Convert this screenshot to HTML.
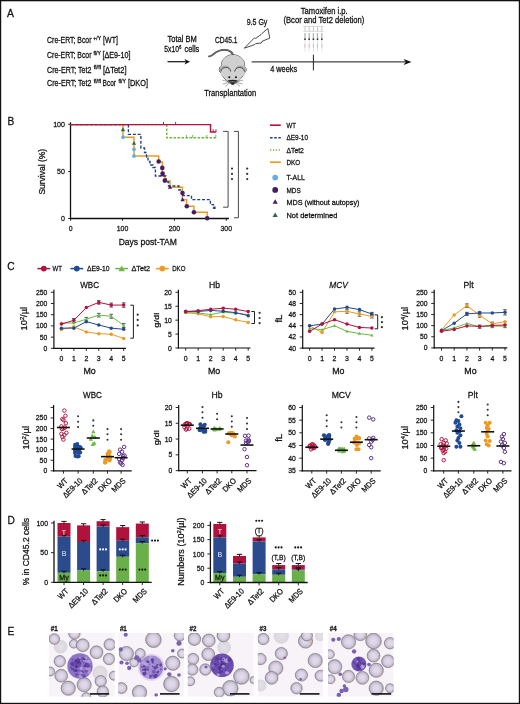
<!DOCTYPE html>
<html><head><meta charset="utf-8"><style>
html,body{margin:0;padding:0;background:#fff;}
svg{display:block;font-family:"Liberation Sans", sans-serif;will-change:transform;}
</style></head><body>
<svg width="520" height="704" viewBox="0 0 520 704" font-family='"Liberation Sans", sans-serif' fill="#111">
<rect x="0" y="0" width="520" height="704" fill="#fff"/>
<text x="7.00" y="16.80" font-size="10.8" textLength="6.92" lengthAdjust="spacingAndGlyphs" stroke="#111" stroke-width="0.26">A</text>
<text x="47.10" y="43.10" font-size="8.3" textLength="44.40" lengthAdjust="spacingAndGlyphs" stroke="#111" stroke-width="0.26">Cre-ERT; Bcor</text>
<text x="93.30" y="39.80" font-size="5.6" textLength="7.80" lengthAdjust="spacingAndGlyphs" stroke="#111" stroke-width="0.26">+/Y</text>
<text x="103.10" y="43.10" font-size="8.3" textLength="14.80" lengthAdjust="spacingAndGlyphs" stroke="#111" stroke-width="0.26">[WT]</text>
<text x="47.10" y="57.90" font-size="8.3" textLength="44.40" lengthAdjust="spacingAndGlyphs" stroke="#111" stroke-width="0.26">Cre-ERT; Bcor</text>
<text x="93.50" y="54.60" font-size="5.6" textLength="7.50" lengthAdjust="spacingAndGlyphs" stroke="#111" stroke-width="0.26">fl/Y</text>
<text x="102.50" y="57.90" font-size="8.3" textLength="27.90" lengthAdjust="spacingAndGlyphs" stroke="#111" stroke-width="0.26">[&#916;E9-10]</text>
<text x="47.10" y="72.70" font-size="8.3" textLength="44.40" lengthAdjust="spacingAndGlyphs" stroke="#111" stroke-width="0.26">Cre-ERT; Tet2</text>
<text x="93.80" y="69.40" font-size="5.6" textLength="7.20" lengthAdjust="spacingAndGlyphs" stroke="#111" stroke-width="0.26">fl/fl</text>
<text x="103.00" y="72.70" font-size="8.3" textLength="23.50" lengthAdjust="spacingAndGlyphs" stroke="#111" stroke-width="0.26">[&#916;Tet2]</text>
<text x="47.10" y="85.80" font-size="8.3" textLength="44.40" lengthAdjust="spacingAndGlyphs" stroke="#111" stroke-width="0.26">Cre-ERT; Tet2</text>
<text x="93.80" y="82.50" font-size="5.6" textLength="7.20" lengthAdjust="spacingAndGlyphs" stroke="#111" stroke-width="0.26">fl/fl</text>
<text x="102.50" y="85.80" font-size="8.3" textLength="13.50" lengthAdjust="spacingAndGlyphs" stroke="#111" stroke-width="0.26">Bcor</text>
<text x="118.50" y="82.50" font-size="5.6" textLength="7.50" lengthAdjust="spacingAndGlyphs" stroke="#111" stroke-width="0.26">fl/Y</text>
<text x="128.00" y="85.80" font-size="8.3" textLength="20.00" lengthAdjust="spacingAndGlyphs" stroke="#111" stroke-width="0.26">[DKO]</text>
<text x="167.50" y="42.10" font-size="8.2" textLength="29.20" lengthAdjust="spacingAndGlyphs" stroke="#111" stroke-width="0.26">Total BM</text>
<text x="164.30" y="51.70" font-size="8.2" textLength="14.60" lengthAdjust="spacingAndGlyphs" stroke="#111" stroke-width="0.26">5x10</text>
<text x="179.00" y="48.60" font-size="5.4" textLength="2.40" lengthAdjust="spacingAndGlyphs" stroke="#111" stroke-width="0.26">6</text>
<text x="184.50" y="51.70" font-size="8.2" textLength="14.80" lengthAdjust="spacingAndGlyphs" stroke="#111" stroke-width="0.26">cells</text>
<line x1="167.50" y1="61.70" x2="186.00" y2="61.70" stroke="#111" stroke-width="1.2"/>
<polygon points="190,61.7 184.5,58.9 186,61.7 184.5,64.5" fill="#111"/>
<text x="215.00" y="43.00" font-size="8.2" textLength="22.50" lengthAdjust="spacingAndGlyphs" stroke="#111" stroke-width="0.26">CD45.1</text>
<text x="246.70" y="24.90" font-size="8.2" textLength="20.70" lengthAdjust="spacingAndGlyphs" stroke="#111" stroke-width="0.26">9.5 Gy</text>
<polygon points="244.3,48.2 254.4,37.9 255.8,38.4 261.0,34.6 261.8,33.6 267.9,28.5 269.8,38.1 262.0,41.4 261.4,43.0 255.6,43.6 254.8,44.6" fill="#fff" stroke="#222" stroke-width="0.8" stroke-linejoin="miter"/>
<path d="M233.3,55.2 C232,51.5 229,49.8 224,49.8 C219.5,49.8 216.5,51.5 213.5,54.2 C212,55.6 210.5,56.6 209.0,56.3" fill="none" stroke="#333" stroke-width="1.7" stroke-linecap="round"/>
<path d="M233.3,55.2 C232,51.5 229,49.8 224,49.8 C219.5,49.8 216.5,51.5 213.5,54.2 C212,55.6 210.5,56.6 209.0,56.3" fill="none" stroke="#aaa" stroke-width="0.6" stroke-linecap="round"/>
<ellipse cx="233" cy="65.2" rx="11.6" ry="10.5" fill="#d0d0d0" stroke="#2a2a2a" stroke-width="1.0"/>
<ellipse cx="225.1" cy="69.6" rx="5.8" ry="4.7" fill="#d0d0d0" stroke="#2a2a2a" stroke-width="1.0"/>
<ellipse cx="240.3" cy="69.6" rx="5.8" ry="4.7" fill="#d0d0d0" stroke="#2a2a2a" stroke-width="1.0"/>
<path d="M220.6,70.5 C221.5,76.5 227.5,82.3 232.7,84.6 C237.9,82.3 243.9,76.5 244.8,70.5 Z" fill="#d0d0d0" stroke="#2a2a2a" stroke-width="1.0"/>
<ellipse cx="233" cy="65.2" rx="11.6" ry="10.5" fill="#d0d0d0"/>
<ellipse cx="225.1" cy="69.6" rx="5.8" ry="4.7" fill="#d0d0d0"/>
<ellipse cx="240.3" cy="69.6" rx="5.8" ry="4.7" fill="#d0d0d0"/>
<path d="M220.6,70.5 C221.5,76.5 227.5,82.3 232.7,84.6 C237.9,82.3 243.9,76.5 244.8,70.5 Z" fill="#d0d0d0"/>
<ellipse cx="225.1" cy="69.6" rx="5.3" ry="4.2" fill="#ababab"/>
<ellipse cx="240.3" cy="69.6" rx="5.3" ry="4.2" fill="#ababab"/>
<path d="M220.6,76 L220.9,71.6 C221.2,66.6 229.9,65.6 230.7,71.2 L231,76 Z" fill="#d0d0d0"/>
<path d="M244.8,76 L244.5,71.6 C244.2,66.6 235.5,65.6 234.7,71.2 L234.4,76 Z" fill="#d0d0d0"/>
<path d="M220.9,71.6 C221.2,66.6 229.9,65.6 230.7,71.6" fill="none" stroke="#333" stroke-width="0.8"/>
<path d="M244.5,71.6 C244.2,66.6 235.5,65.6 234.7,71.6" fill="none" stroke="#333" stroke-width="0.8"/>
<circle cx="229.30" cy="77.30" r="1.05" fill="#111"/>
<circle cx="235.90" cy="77.30" r="1.05" fill="#111"/>
<path d="M227.6,80.4 Q232.7,79.2 237.8,80.4 L233.6,84.2 Q232.7,84.9 231.8,84.2 Z" fill="#222"/>
<path d="M229.5,81.4 Q232.7,80.7 235.9,81.4 L234.6,82.6 Q232.7,82.1 230.8,82.6 Z" fill="#777"/>
<line x1="228.60" y1="81.60" x2="222.40" y2="80.20" stroke="#555" stroke-width="0.5"/>
<line x1="228.80" y1="82.40" x2="222.80" y2="84.00" stroke="#555" stroke-width="0.5"/>
<line x1="229.40" y1="83.10" x2="225.40" y2="86.40" stroke="#555" stroke-width="0.5"/>
<line x1="236.80" y1="81.60" x2="243.00" y2="80.20" stroke="#555" stroke-width="0.5"/>
<line x1="236.60" y1="82.40" x2="242.60" y2="84.00" stroke="#555" stroke-width="0.5"/>
<line x1="236.00" y1="83.10" x2="240.00" y2="86.40" stroke="#555" stroke-width="0.5"/>
<text x="204.20" y="95.90" font-size="8.2" textLength="52.00" lengthAdjust="spacingAndGlyphs" stroke="#111" stroke-width="0.26">Transplantation</text>
<line x1="251.60" y1="61.90" x2="405.00" y2="61.90" stroke="#444" stroke-width="1.1"/>
<polygon points="411.5,61.9 403.6,58.9 405.6,61.9 403.6,64.9" fill="#111"/>
<line x1="313.40" y1="54.70" x2="313.40" y2="70.30" stroke="#222" stroke-width="1.0"/>
<text x="270.20" y="71.50" font-size="8.2" textLength="26.90" lengthAdjust="spacingAndGlyphs" stroke="#111" stroke-width="0.26">4 weeks</text>
<text x="300.80" y="14.20" font-size="8.2" textLength="46.90" lengthAdjust="spacingAndGlyphs" stroke="#111" stroke-width="0.26">Tamoxifen i.p.</text>
<text x="283.50" y="23.30" font-size="8.2" textLength="80.70" lengthAdjust="spacingAndGlyphs" stroke="#111" stroke-width="0.26">(Bcor and Tet2 deletion)</text>
<line x1="303.20" y1="26.40" x2="323.70" y2="26.40" stroke="#cfcfcf" stroke-width="0.8"/>
<line x1="303.20" y1="31.30" x2="323.70" y2="31.30" stroke="#cfcfcf" stroke-width="0.8"/>
<line x1="305.00" y1="26.40" x2="305.00" y2="31.30" stroke="#c4c4c4" stroke-width="0.9"/>
<line x1="305.00" y1="33.00" x2="305.00" y2="38.60" stroke="#b4b4b4" stroke-width="1.3"/>
<rect x="304.20" y="38.4" width="1.6" height="1.7" fill="#333"/>
<line x1="305.00" y1="40.40" x2="305.00" y2="51.50" stroke="#e2dadf" stroke-width="0.8"/>
<line x1="305.00" y1="43.80" x2="305.00" y2="47.60" stroke="#d7a9c2" stroke-width="0.8"/>
<line x1="309.20" y1="26.40" x2="309.20" y2="31.30" stroke="#c4c4c4" stroke-width="0.9"/>
<line x1="309.20" y1="33.00" x2="309.20" y2="38.60" stroke="#b4b4b4" stroke-width="1.3"/>
<rect x="308.40" y="38.4" width="1.6" height="1.7" fill="#333"/>
<line x1="309.20" y1="40.40" x2="309.20" y2="51.50" stroke="#e2dadf" stroke-width="0.8"/>
<line x1="309.20" y1="43.80" x2="309.20" y2="47.60" stroke="#d7a9c2" stroke-width="0.8"/>
<line x1="313.40" y1="26.40" x2="313.40" y2="31.30" stroke="#c4c4c4" stroke-width="0.9"/>
<line x1="313.40" y1="33.00" x2="313.40" y2="38.60" stroke="#b4b4b4" stroke-width="1.3"/>
<rect x="312.60" y="38.4" width="1.6" height="1.7" fill="#333"/>
<line x1="313.40" y1="40.40" x2="313.40" y2="51.50" stroke="#e2dadf" stroke-width="0.8"/>
<line x1="313.40" y1="43.80" x2="313.40" y2="47.60" stroke="#d7a9c2" stroke-width="0.8"/>
<line x1="317.50" y1="26.40" x2="317.50" y2="31.30" stroke="#c4c4c4" stroke-width="0.9"/>
<line x1="317.50" y1="33.00" x2="317.50" y2="38.60" stroke="#b4b4b4" stroke-width="1.3"/>
<rect x="316.70" y="38.4" width="1.6" height="1.7" fill="#333"/>
<line x1="317.50" y1="40.40" x2="317.50" y2="51.50" stroke="#e2dadf" stroke-width="0.8"/>
<line x1="317.50" y1="43.80" x2="317.50" y2="47.60" stroke="#d7a9c2" stroke-width="0.8"/>
<line x1="321.80" y1="26.40" x2="321.80" y2="31.30" stroke="#c4c4c4" stroke-width="0.9"/>
<line x1="321.80" y1="33.00" x2="321.80" y2="38.60" stroke="#b4b4b4" stroke-width="1.3"/>
<rect x="321.00" y="38.4" width="1.6" height="1.7" fill="#333"/>
<line x1="321.80" y1="40.40" x2="321.80" y2="51.50" stroke="#e2dadf" stroke-width="0.8"/>
<line x1="321.80" y1="43.80" x2="321.80" y2="47.60" stroke="#d7a9c2" stroke-width="0.8"/>
<text x="7.40" y="124.90" font-size="10.6" textLength="6.79" lengthAdjust="spacingAndGlyphs" stroke="#111" stroke-width="0.26">B</text>
<line x1="70.50" y1="122.30" x2="70.50" y2="219.00" stroke="#111" stroke-width="1.3"/>
<line x1="70.00" y1="218.50" x2="229.00" y2="218.50" stroke="#111" stroke-width="1.3"/>
<line x1="68.20" y1="124.30" x2="70.50" y2="124.30" stroke="#111" stroke-width="0.9"/>
<text x="65.00" y="126.80" font-size="7.8" text-anchor="end" textLength="11.84" lengthAdjust="spacingAndGlyphs" stroke="#111" stroke-width="0.26">100</text>
<line x1="68.20" y1="171.50" x2="70.50" y2="171.50" stroke="#111" stroke-width="0.9"/>
<text x="65.00" y="174.00" font-size="7.8" text-anchor="end" textLength="7.90" lengthAdjust="spacingAndGlyphs" stroke="#111" stroke-width="0.26">50</text>
<line x1="68.20" y1="218.50" x2="70.50" y2="218.50" stroke="#111" stroke-width="0.9"/>
<text x="65.00" y="221.00" font-size="7.8" text-anchor="end" textLength="3.95" lengthAdjust="spacingAndGlyphs" stroke="#111" stroke-width="0.26">0</text>
<line x1="70.60" y1="218.50" x2="70.60" y2="220.80" stroke="#111" stroke-width="0.9"/>
<text x="70.60" y="231.30" font-size="7.6" text-anchor="middle" textLength="3.85" lengthAdjust="spacingAndGlyphs" stroke="#111" stroke-width="0.26">0</text>
<line x1="122.50" y1="218.50" x2="122.50" y2="220.80" stroke="#111" stroke-width="0.9"/>
<text x="122.50" y="231.30" font-size="7.6" text-anchor="middle" textLength="11.54" lengthAdjust="spacingAndGlyphs" stroke="#111" stroke-width="0.26">100</text>
<line x1="174.40" y1="218.50" x2="174.40" y2="220.80" stroke="#111" stroke-width="0.9"/>
<text x="174.40" y="231.30" font-size="7.6" text-anchor="middle" textLength="11.54" lengthAdjust="spacingAndGlyphs" stroke="#111" stroke-width="0.26">200</text>
<line x1="226.30" y1="218.50" x2="226.30" y2="220.80" stroke="#111" stroke-width="0.9"/>
<text x="226.30" y="231.30" font-size="7.6" text-anchor="middle" textLength="11.54" lengthAdjust="spacingAndGlyphs" stroke="#111" stroke-width="0.26">300</text>
<text x="45.40" y="171.70" font-size="8.8" text-anchor="middle" textLength="45.80" lengthAdjust="spacingAndGlyphs" stroke="#111" stroke-width="0.26" transform="rotate(-90 45.4 171.7)">Survival (%)</text>
<text x="118.70" y="245.20" font-size="8.8" textLength="58.20" lengthAdjust="spacingAndGlyphs" stroke="#111" stroke-width="0.26">Days post-TAM</text>
<path d="M70.6,124.6 H123 V137.2 H134 V156 H158.7 V162 H162.3 V175.5 H164.8 V181 H170 V187.2 H182.3 V199.6 H186.6 V206.3 H193.9 V212.3 H207.2 V218.5" fill="none" stroke="#ec9a22" stroke-width="1.45"/>
<path d="M70.6,124.6 H166.8 V137.7 H216.2" fill="none" stroke="#6cb844" stroke-width="1.35" stroke-dasharray="2.6,1.4"/>
<line x1="163.50" y1="124.60" x2="163.50" y2="121.90" stroke="#6cb844" stroke-width="0.9"/>
<line x1="186.40" y1="137.70" x2="186.40" y2="135.00" stroke="#6cb844" stroke-width="0.9"/>
<line x1="192.60" y1="137.70" x2="192.60" y2="135.00" stroke="#6cb844" stroke-width="0.9"/>
<line x1="206.80" y1="137.70" x2="206.80" y2="135.00" stroke="#6cb844" stroke-width="0.9"/>
<line x1="215.80" y1="137.70" x2="215.80" y2="135.00" stroke="#6cb844" stroke-width="0.9"/>
<path d="M70.6,124.6 H128.4 V134.3 H140.9 V148 H144.5 V152.5 H146.5 V157 H148 V161.5 H150 V165 H153 V167.5 H155.4 V176 H166 V182 H168.5 V186 H179 V190 H182 V195.6 H191.5 V199.6 H210.4 V204.6 H213.5 V208 H215" fill="none" stroke="#1f3f86" stroke-width="1.35" stroke-dasharray="3,1.8"/>
<rect x="213.4" y="206.6" width="2.2" height="2.4" fill="#1f3f86"/>
<path d="M70.6,124.6 H210.5 V131.9 H216.2" fill="none" stroke="#b3123e" stroke-width="1.45"/>
<line x1="163.50" y1="124.60" x2="163.50" y2="121.90" stroke="#b3123e" stroke-width="0.9"/>
<line x1="175.60" y1="124.60" x2="175.60" y2="121.90" stroke="#b3123e" stroke-width="0.9"/>
<line x1="213.20" y1="131.90" x2="213.20" y2="129.20" stroke="#b3123e" stroke-width="0.9"/>
<line x1="216.00" y1="131.90" x2="216.00" y2="129.20" stroke="#b3123e" stroke-width="0.9"/>
<polygon points="123.00,127.28 120.85,131.15 125.15,131.15" fill="#2a6650"/>
<polygon points="134.00,140.88 131.85,144.75 136.15,144.75" fill="#2a6650"/>
<circle cx="123.00" cy="137.20" r="1.9" fill="#64aee6"/>
<circle cx="134.00" cy="149.30" r="1.9" fill="#64aee6"/>
<circle cx="134.00" cy="156.00" r="1.9" fill="#64aee6"/>
<polygon points="162.30,172.28 160.15,176.15 164.45,176.15" fill="#4a1a72"/>
<polygon points="170.00,184.98 167.85,188.85 172.15,188.85" fill="#4a1a72"/>
<polygon points="182.60,197.28 180.45,201.15 184.75,201.15" fill="#4a1a72"/>
<circle cx="158.70" cy="161.50" r="2.3" fill="#4a1a62"/>
<circle cx="162.30" cy="167.90" r="2.3" fill="#4a1a62"/>
<circle cx="162.60" cy="173.60" r="2.3" fill="#4a1a62"/>
<circle cx="164.80" cy="180.60" r="2.3" fill="#4a1a62"/>
<circle cx="182.50" cy="193.00" r="2.3" fill="#4a1a62"/>
<circle cx="186.80" cy="206.30" r="2.3" fill="#4a1a62"/>
<circle cx="193.90" cy="212.30" r="2.3" fill="#4a1a62"/>
<circle cx="207.20" cy="218.30" r="2.3" fill="#4a1a62"/>
<path d="M223.1,131.4 H228.1 V207.2 H223.1" fill="none" stroke="#333" stroke-width="0.9"/>
<path d="M234.0,131.4 H238.4 V217.8 H234.0" fill="none" stroke="#333" stroke-width="0.9"/>
<circle cx="232.00" cy="168.60" r="1.1" fill="#333"/>
<circle cx="232.00" cy="173.90" r="1.1" fill="#333"/>
<circle cx="232.00" cy="179.10" r="1.1" fill="#333"/>
<circle cx="247.20" cy="168.60" r="1.1" fill="#333"/>
<circle cx="247.20" cy="173.90" r="1.1" fill="#333"/>
<circle cx="247.20" cy="179.10" r="1.1" fill="#333"/>
<line x1="270.00" y1="125.20" x2="280.80" y2="125.20" stroke="#b3123e" stroke-width="1.6"/>
<line x1="270.00" y1="137.70" x2="280.80" y2="137.70" stroke="#1f3f86" stroke-width="1.5" stroke-dasharray="2.6,1.6"/>
<line x1="270.00" y1="150.00" x2="280.80" y2="150.00" stroke="#6cb844" stroke-width="1.5" stroke-dasharray="1.3,1.6"/>
<line x1="270.00" y1="162.20" x2="280.80" y2="162.20" stroke="#ec9a22" stroke-width="1.6"/>
<circle cx="275.20" cy="177.60" r="2.9" fill="#64aee6"/>
<circle cx="275.20" cy="189.90" r="2.9" fill="#4a1a62"/>
<polygon points="275.20,199.19 272.60,203.87 277.80,203.87" fill="#4a1a72"/>
<polygon points="275.20,212.39 272.60,217.07 277.80,217.07" fill="#2a6650"/>
<text x="286.50" y="128.00" font-size="7.4" textLength="9.40" lengthAdjust="spacingAndGlyphs" stroke="#111" stroke-width="0.26">WT</text>
<text x="286.50" y="140.30" font-size="7.4" textLength="21.50" lengthAdjust="spacingAndGlyphs" stroke="#111" stroke-width="0.26">&#916;E9-10</text>
<text x="286.50" y="152.80" font-size="7.4" textLength="17.30" lengthAdjust="spacingAndGlyphs" stroke="#111" stroke-width="0.26">&#916;Tet2</text>
<text x="286.50" y="165.00" font-size="7.4" textLength="13.80" lengthAdjust="spacingAndGlyphs" stroke="#111" stroke-width="0.26">DKO</text>
<text x="286.50" y="180.30" font-size="7.4" textLength="18.30" lengthAdjust="spacingAndGlyphs" stroke="#111" stroke-width="0.26">T-ALL</text>
<text x="286.50" y="192.60" font-size="7.4" textLength="14.20" lengthAdjust="spacingAndGlyphs" stroke="#111" stroke-width="0.26">MDS</text>
<text x="286.50" y="204.60" font-size="7.4" textLength="73.00" lengthAdjust="spacingAndGlyphs" stroke="#111" stroke-width="0.26">MDS (without autopsy)</text>
<text x="286.50" y="217.80" font-size="7.4" textLength="50.80" lengthAdjust="spacingAndGlyphs" stroke="#111" stroke-width="0.26">Not determined</text>
<text x="7.20" y="270.00" font-size="10.6" textLength="7.35" lengthAdjust="spacingAndGlyphs" stroke="#111" stroke-width="0.26">C</text>
<line x1="37.40" y1="268.60" x2="50.20" y2="268.60" stroke="#b3123e" stroke-width="1.5"/>
<circle cx="43.80" cy="268.60" r="2.9" fill="#b3123e"/>
<line x1="70.40" y1="268.60" x2="83.20" y2="268.60" stroke="#1f4a94" stroke-width="1.5"/>
<circle cx="76.80" cy="268.60" r="2.9" fill="#1f4a94"/>
<line x1="115.30" y1="268.60" x2="128.10" y2="268.60" stroke="#6cb844" stroke-width="1.5"/>
<polygon points="121.70,265.55 118.60,271.13 124.80,271.13" fill="#6cb844"/>
<line x1="155.90" y1="268.60" x2="168.70" y2="268.60" stroke="#ec9a22" stroke-width="1.5"/>
<circle cx="162.30" cy="268.60" r="2.9" fill="#ec9a22"/>
<text x="52.50" y="271.10" font-size="7.7" textLength="9.40" lengthAdjust="spacingAndGlyphs" stroke="#111" stroke-width="0.26">WT</text>
<text x="86.90" y="271.10" font-size="7.7" textLength="22.50" lengthAdjust="spacingAndGlyphs" stroke="#111" stroke-width="0.26">&#916;E9-10</text>
<text x="131.50" y="271.10" font-size="7.7" textLength="18.50" lengthAdjust="spacingAndGlyphs" stroke="#111" stroke-width="0.26">&#916;Tet2</text>
<text x="172.20" y="271.10" font-size="7.7" textLength="13.20" lengthAdjust="spacingAndGlyphs" stroke="#111" stroke-width="0.26">DKO</text>
<line x1="53.90" y1="289.70" x2="53.90" y2="348.90" stroke="#111" stroke-width="1.2"/>
<line x1="53.30" y1="348.30" x2="126.00" y2="348.30" stroke="#111" stroke-width="1.2"/>
<line x1="50.90" y1="348.30" x2="53.90" y2="348.30" stroke="#111" stroke-width="0.9"/>
<text x="47.30" y="350.80" font-size="7.5" text-anchor="end" textLength="3.80" lengthAdjust="spacingAndGlyphs" stroke="#111" stroke-width="0.26">0</text>
<line x1="50.90" y1="337.10" x2="53.90" y2="337.10" stroke="#111" stroke-width="0.9"/>
<text x="47.30" y="339.60" font-size="7.5" text-anchor="end" textLength="7.59" lengthAdjust="spacingAndGlyphs" stroke="#111" stroke-width="0.26">50</text>
<line x1="50.90" y1="325.90" x2="53.90" y2="325.90" stroke="#111" stroke-width="0.9"/>
<text x="47.30" y="328.40" font-size="7.5" text-anchor="end" textLength="11.39" lengthAdjust="spacingAndGlyphs" stroke="#111" stroke-width="0.26">100</text>
<line x1="50.90" y1="314.70" x2="53.90" y2="314.70" stroke="#111" stroke-width="0.9"/>
<text x="47.30" y="317.20" font-size="7.5" text-anchor="end" textLength="11.39" lengthAdjust="spacingAndGlyphs" stroke="#111" stroke-width="0.26">150</text>
<line x1="50.90" y1="303.50" x2="53.90" y2="303.50" stroke="#111" stroke-width="0.9"/>
<text x="47.30" y="306.00" font-size="7.5" text-anchor="end" textLength="11.39" lengthAdjust="spacingAndGlyphs" stroke="#111" stroke-width="0.26">200</text>
<line x1="50.90" y1="292.30" x2="53.90" y2="292.30" stroke="#111" stroke-width="0.9"/>
<text x="47.30" y="294.80" font-size="7.5" text-anchor="end" textLength="11.39" lengthAdjust="spacingAndGlyphs" stroke="#111" stroke-width="0.26">250</text>
<line x1="61.40" y1="348.30" x2="61.40" y2="350.90" stroke="#111" stroke-width="0.9"/>
<text x="61.40" y="361.30" font-size="7.6" text-anchor="middle" textLength="3.85" lengthAdjust="spacingAndGlyphs" stroke="#111" stroke-width="0.26">0</text>
<line x1="73.86" y1="348.30" x2="73.86" y2="350.90" stroke="#111" stroke-width="0.9"/>
<text x="73.86" y="361.30" font-size="7.6" text-anchor="middle" textLength="3.85" lengthAdjust="spacingAndGlyphs" stroke="#111" stroke-width="0.26">1</text>
<line x1="86.32" y1="348.30" x2="86.32" y2="350.90" stroke="#111" stroke-width="0.9"/>
<text x="86.32" y="361.30" font-size="7.6" text-anchor="middle" textLength="3.85" lengthAdjust="spacingAndGlyphs" stroke="#111" stroke-width="0.26">2</text>
<line x1="98.78" y1="348.30" x2="98.78" y2="350.90" stroke="#111" stroke-width="0.9"/>
<text x="98.78" y="361.30" font-size="7.6" text-anchor="middle" textLength="3.85" lengthAdjust="spacingAndGlyphs" stroke="#111" stroke-width="0.26">3</text>
<line x1="111.24" y1="348.30" x2="111.24" y2="350.90" stroke="#111" stroke-width="0.9"/>
<text x="111.24" y="361.30" font-size="7.6" text-anchor="middle" textLength="3.85" lengthAdjust="spacingAndGlyphs" stroke="#111" stroke-width="0.26">4</text>
<line x1="123.70" y1="348.30" x2="123.70" y2="350.90" stroke="#111" stroke-width="0.9"/>
<text x="123.70" y="361.30" font-size="7.6" text-anchor="middle" textLength="3.85" lengthAdjust="spacingAndGlyphs" stroke="#111" stroke-width="0.26">5</text>
<text x="89.65" y="374.40" font-size="9.0" text-anchor="middle" textLength="12.30" lengthAdjust="spacingAndGlyphs" stroke="#111" stroke-width="0.26">Mo</text>
<text x="89.60" y="288.40" font-size="9.5" text-anchor="middle" textLength="18.80" lengthAdjust="spacingAndGlyphs" stroke="#111" stroke-width="0.26">WBC</text>
<text x="27.50" y="318.60" font-size="9.2" text-anchor="middle" textLength="23.60" lengthAdjust="spacingAndGlyphs" stroke="#111" stroke-width="0.26" transform="rotate(-90 27.50 318.6)">10<tspan font-size="5.5" dy="-3">2</tspan><tspan dy="3">/&#181;l</tspan></text>
<polyline points="61.40,329.48 73.86,326.80 86.32,331.95 98.78,333.74 111.24,334.19 123.70,338.44" fill="none" stroke="#ec9a22" stroke-width="1.0"/>
<polyline points="61.40,322.99 73.86,322.99 86.32,319.18 98.78,315.15 111.24,316.27 123.70,325.45" fill="none" stroke="#6cb844" stroke-width="1.0"/>
<polyline points="61.40,328.14 73.86,328.14 86.32,321.64 98.78,325.00 111.24,328.14 123.70,329.26" fill="none" stroke="#1f4a94" stroke-width="1.0"/>
<polyline points="61.40,324.11 73.86,320.30 86.32,307.53 98.78,302.38 111.24,305.07 123.70,305.07" fill="none" stroke="#b3123e" stroke-width="1.0"/>
<line x1="73.86" y1="318.51" x2="73.86" y2="322.09" stroke="#444" stroke-width="0.8"/>
<line x1="72.06" y1="318.51" x2="75.66" y2="318.51" stroke="#444" stroke-width="0.85"/>
<line x1="72.06" y1="322.09" x2="75.66" y2="322.09" stroke="#444" stroke-width="0.85"/>
<line x1="98.78" y1="300.59" x2="98.78" y2="304.17" stroke="#444" stroke-width="0.8"/>
<line x1="96.98" y1="300.59" x2="100.58" y2="300.59" stroke="#444" stroke-width="0.85"/>
<line x1="96.98" y1="304.17" x2="100.58" y2="304.17" stroke="#444" stroke-width="0.85"/>
<line x1="111.24" y1="303.05" x2="111.24" y2="307.08" stroke="#444" stroke-width="0.8"/>
<line x1="109.44" y1="303.05" x2="113.04" y2="303.05" stroke="#444" stroke-width="0.85"/>
<line x1="109.44" y1="307.08" x2="113.04" y2="307.08" stroke="#444" stroke-width="0.85"/>
<line x1="123.70" y1="302.83" x2="123.70" y2="307.31" stroke="#444" stroke-width="0.8"/>
<line x1="121.90" y1="302.83" x2="125.50" y2="302.83" stroke="#444" stroke-width="0.85"/>
<line x1="121.90" y1="307.31" x2="125.50" y2="307.31" stroke="#444" stroke-width="0.85"/>
<line x1="86.32" y1="317.39" x2="86.32" y2="320.97" stroke="#444" stroke-width="0.8"/>
<line x1="84.52" y1="317.39" x2="88.12" y2="317.39" stroke="#444" stroke-width="0.85"/>
<line x1="84.52" y1="320.97" x2="88.12" y2="320.97" stroke="#444" stroke-width="0.85"/>
<line x1="98.78" y1="313.36" x2="98.78" y2="316.94" stroke="#444" stroke-width="0.8"/>
<line x1="96.98" y1="313.36" x2="100.58" y2="313.36" stroke="#444" stroke-width="0.85"/>
<line x1="96.98" y1="316.94" x2="100.58" y2="316.94" stroke="#444" stroke-width="0.85"/>
<line x1="111.24" y1="314.25" x2="111.24" y2="318.28" stroke="#444" stroke-width="0.8"/>
<line x1="109.44" y1="314.25" x2="113.04" y2="314.25" stroke="#444" stroke-width="0.85"/>
<line x1="109.44" y1="318.28" x2="113.04" y2="318.28" stroke="#444" stroke-width="0.85"/>
<line x1="123.70" y1="323.44" x2="123.70" y2="327.47" stroke="#444" stroke-width="0.8"/>
<line x1="121.90" y1="323.44" x2="125.50" y2="323.44" stroke="#444" stroke-width="0.85"/>
<line x1="121.90" y1="327.47" x2="125.50" y2="327.47" stroke="#444" stroke-width="0.85"/>
<circle cx="61.40" cy="329.48" r="1.75" fill="#ec9a22"/>
<circle cx="73.86" cy="326.80" r="1.75" fill="#ec9a22"/>
<circle cx="86.32" cy="331.95" r="1.75" fill="#ec9a22"/>
<circle cx="98.78" cy="333.74" r="1.75" fill="#ec9a22"/>
<circle cx="111.24" cy="334.19" r="1.75" fill="#ec9a22"/>
<circle cx="123.70" cy="338.44" r="1.75" fill="#ec9a22"/>
<polygon points="61.40,321.21 59.75,324.18 63.05,324.18" fill="#6cb844"/>
<polygon points="73.86,321.21 72.21,324.18 75.51,324.18" fill="#6cb844"/>
<polygon points="86.32,317.40 84.67,320.37 87.97,320.37" fill="#6cb844"/>
<polygon points="98.78,313.37 97.13,316.34 100.43,316.34" fill="#6cb844"/>
<polygon points="111.24,314.49 109.59,317.46 112.89,317.46" fill="#6cb844"/>
<polygon points="123.70,323.67 122.05,326.64 125.35,326.64" fill="#6cb844"/>
<circle cx="61.40" cy="328.14" r="1.75" fill="#1f4a94"/>
<circle cx="73.86" cy="328.14" r="1.75" fill="#1f4a94"/>
<circle cx="86.32" cy="321.64" r="1.75" fill="#1f4a94"/>
<circle cx="98.78" cy="325.00" r="1.75" fill="#1f4a94"/>
<circle cx="111.24" cy="328.14" r="1.75" fill="#1f4a94"/>
<circle cx="123.70" cy="329.26" r="1.75" fill="#1f4a94"/>
<circle cx="61.40" cy="324.11" r="1.75" fill="#b3123e"/>
<circle cx="73.86" cy="320.30" r="1.75" fill="#b3123e"/>
<circle cx="86.32" cy="307.53" r="1.75" fill="#b3123e"/>
<circle cx="98.78" cy="302.38" r="1.75" fill="#b3123e"/>
<circle cx="111.24" cy="305.07" r="1.75" fill="#b3123e"/>
<circle cx="123.70" cy="305.07" r="1.75" fill="#b3123e"/>
<path d="M130.30,305.20 H133.40 V338.20 H130.30" fill="none" stroke="#222" stroke-width="1.0"/>
<circle cx="137.70" cy="314.70" r="1.1" fill="#333"/>
<circle cx="137.70" cy="319.90" r="1.1" fill="#333"/>
<circle cx="137.70" cy="325.40" r="1.1" fill="#333"/>
<line x1="178.40" y1="289.70" x2="178.40" y2="348.60" stroke="#111" stroke-width="1.2"/>
<line x1="177.80" y1="348.00" x2="250.50" y2="348.00" stroke="#111" stroke-width="1.2"/>
<line x1="175.40" y1="348.00" x2="178.40" y2="348.00" stroke="#111" stroke-width="0.9"/>
<text x="171.80" y="350.50" font-size="7.5" text-anchor="end" textLength="3.80" lengthAdjust="spacingAndGlyphs" stroke="#111" stroke-width="0.26">0</text>
<line x1="175.40" y1="334.07" x2="178.40" y2="334.07" stroke="#111" stroke-width="0.9"/>
<text x="171.80" y="336.57" font-size="7.5" text-anchor="end" textLength="3.80" lengthAdjust="spacingAndGlyphs" stroke="#111" stroke-width="0.26">5</text>
<line x1="175.40" y1="320.15" x2="178.40" y2="320.15" stroke="#111" stroke-width="0.9"/>
<text x="171.80" y="322.65" font-size="7.5" text-anchor="end" textLength="7.59" lengthAdjust="spacingAndGlyphs" stroke="#111" stroke-width="0.26">10</text>
<line x1="175.40" y1="306.23" x2="178.40" y2="306.23" stroke="#111" stroke-width="0.9"/>
<text x="171.80" y="308.73" font-size="7.5" text-anchor="end" textLength="7.59" lengthAdjust="spacingAndGlyphs" stroke="#111" stroke-width="0.26">15</text>
<line x1="175.40" y1="292.30" x2="178.40" y2="292.30" stroke="#111" stroke-width="0.9"/>
<text x="171.80" y="294.80" font-size="7.5" text-anchor="end" textLength="7.59" lengthAdjust="spacingAndGlyphs" stroke="#111" stroke-width="0.26">20</text>
<line x1="185.70" y1="348.00" x2="185.70" y2="350.60" stroke="#111" stroke-width="0.9"/>
<text x="185.70" y="361.30" font-size="7.6" text-anchor="middle" textLength="3.85" lengthAdjust="spacingAndGlyphs" stroke="#111" stroke-width="0.26">0</text>
<line x1="198.20" y1="348.00" x2="198.20" y2="350.60" stroke="#111" stroke-width="0.9"/>
<text x="198.20" y="361.30" font-size="7.6" text-anchor="middle" textLength="3.85" lengthAdjust="spacingAndGlyphs" stroke="#111" stroke-width="0.26">1</text>
<line x1="210.70" y1="348.00" x2="210.70" y2="350.60" stroke="#111" stroke-width="0.9"/>
<text x="210.70" y="361.30" font-size="7.6" text-anchor="middle" textLength="3.85" lengthAdjust="spacingAndGlyphs" stroke="#111" stroke-width="0.26">2</text>
<line x1="223.20" y1="348.00" x2="223.20" y2="350.60" stroke="#111" stroke-width="0.9"/>
<text x="223.20" y="361.30" font-size="7.6" text-anchor="middle" textLength="3.85" lengthAdjust="spacingAndGlyphs" stroke="#111" stroke-width="0.26">3</text>
<line x1="235.70" y1="348.00" x2="235.70" y2="350.60" stroke="#111" stroke-width="0.9"/>
<text x="235.70" y="361.30" font-size="7.6" text-anchor="middle" textLength="3.85" lengthAdjust="spacingAndGlyphs" stroke="#111" stroke-width="0.26">4</text>
<line x1="248.20" y1="348.00" x2="248.20" y2="350.60" stroke="#111" stroke-width="0.9"/>
<text x="248.20" y="361.30" font-size="7.6" text-anchor="middle" textLength="3.85" lengthAdjust="spacingAndGlyphs" stroke="#111" stroke-width="0.26">5</text>
<text x="214.15" y="374.40" font-size="9.0" text-anchor="middle" textLength="12.30" lengthAdjust="spacingAndGlyphs" stroke="#111" stroke-width="0.26">Mo</text>
<text x="214.60" y="288.40" font-size="9.5" text-anchor="middle" textLength="11.05" lengthAdjust="spacingAndGlyphs" stroke="#111" stroke-width="0.26">Hb</text>
<text x="159.00" y="320.20" font-size="7.4" text-anchor="middle" textLength="15.00" lengthAdjust="spacingAndGlyphs" stroke="#111" stroke-width="0.26" transform="rotate(-90 159.00 320.2)">g/dl</text>
<polyline points="185.70,312.35 198.20,313.74 210.70,316.81 223.20,316.53 235.70,319.87 248.20,322.38" fill="none" stroke="#ec9a22" stroke-width="1.0"/>
<polyline points="185.70,312.91 198.20,312.91 210.70,314.58 223.20,312.07 235.70,313.19 248.20,314.58" fill="none" stroke="#6cb844" stroke-width="1.0"/>
<polyline points="185.70,311.24 198.20,311.52 210.70,310.40 223.20,311.24 235.70,312.63 248.20,315.69" fill="none" stroke="#1f4a94" stroke-width="1.0"/>
<polyline points="185.70,311.80 198.20,310.68 210.70,309.29 223.20,308.17 235.70,309.29 248.20,311.52" fill="none" stroke="#b3123e" stroke-width="1.0"/>
<circle cx="185.70" cy="312.35" r="1.75" fill="#ec9a22"/>
<circle cx="198.20" cy="313.74" r="1.75" fill="#ec9a22"/>
<circle cx="210.70" cy="316.81" r="1.75" fill="#ec9a22"/>
<circle cx="223.20" cy="316.53" r="1.75" fill="#ec9a22"/>
<circle cx="235.70" cy="319.87" r="1.75" fill="#ec9a22"/>
<circle cx="248.20" cy="322.38" r="1.75" fill="#ec9a22"/>
<polygon points="185.70,311.13 184.05,314.10 187.35,314.10" fill="#6cb844"/>
<polygon points="198.20,311.13 196.55,314.10 199.85,314.10" fill="#6cb844"/>
<polygon points="210.70,312.80 209.05,315.77 212.35,315.77" fill="#6cb844"/>
<polygon points="223.20,310.29 221.55,313.26 224.85,313.26" fill="#6cb844"/>
<polygon points="235.70,311.41 234.05,314.38 237.35,314.38" fill="#6cb844"/>
<polygon points="248.20,312.80 246.55,315.77 249.85,315.77" fill="#6cb844"/>
<circle cx="185.70" cy="311.24" r="1.75" fill="#1f4a94"/>
<circle cx="198.20" cy="311.52" r="1.75" fill="#1f4a94"/>
<circle cx="210.70" cy="310.40" r="1.75" fill="#1f4a94"/>
<circle cx="223.20" cy="311.24" r="1.75" fill="#1f4a94"/>
<circle cx="235.70" cy="312.63" r="1.75" fill="#1f4a94"/>
<circle cx="248.20" cy="315.69" r="1.75" fill="#1f4a94"/>
<circle cx="185.70" cy="311.80" r="1.75" fill="#b3123e"/>
<circle cx="198.20" cy="310.68" r="1.75" fill="#b3123e"/>
<circle cx="210.70" cy="309.29" r="1.75" fill="#b3123e"/>
<circle cx="223.20" cy="308.17" r="1.75" fill="#b3123e"/>
<circle cx="235.70" cy="309.29" r="1.75" fill="#b3123e"/>
<circle cx="248.20" cy="311.52" r="1.75" fill="#b3123e"/>
<path d="M251.40,311.50 H254.50 V323.50 H251.40" fill="none" stroke="#222" stroke-width="1.0"/>
<circle cx="259.60" cy="312.80" r="1.1" fill="#333"/>
<circle cx="259.60" cy="318.00" r="1.1" fill="#333"/>
<circle cx="259.60" cy="323.20" r="1.1" fill="#333"/>
<line x1="302.70" y1="289.70" x2="302.70" y2="348.70" stroke="#111" stroke-width="1.2"/>
<line x1="302.10" y1="348.10" x2="374.50" y2="348.10" stroke="#111" stroke-width="1.2"/>
<line x1="299.70" y1="348.10" x2="302.70" y2="348.10" stroke="#111" stroke-width="0.9"/>
<text x="296.10" y="350.60" font-size="7.5" text-anchor="end" textLength="7.59" lengthAdjust="spacingAndGlyphs" stroke="#111" stroke-width="0.26">40</text>
<line x1="299.70" y1="336.94" x2="302.70" y2="336.94" stroke="#111" stroke-width="0.9"/>
<text x="296.10" y="339.44" font-size="7.5" text-anchor="end" textLength="7.59" lengthAdjust="spacingAndGlyphs" stroke="#111" stroke-width="0.26">42</text>
<line x1="299.70" y1="325.78" x2="302.70" y2="325.78" stroke="#111" stroke-width="0.9"/>
<text x="296.10" y="328.28" font-size="7.5" text-anchor="end" textLength="7.59" lengthAdjust="spacingAndGlyphs" stroke="#111" stroke-width="0.26">44</text>
<line x1="299.70" y1="314.62" x2="302.70" y2="314.62" stroke="#111" stroke-width="0.9"/>
<text x="296.10" y="317.12" font-size="7.5" text-anchor="end" textLength="7.59" lengthAdjust="spacingAndGlyphs" stroke="#111" stroke-width="0.26">46</text>
<line x1="299.70" y1="303.46" x2="302.70" y2="303.46" stroke="#111" stroke-width="0.9"/>
<text x="296.10" y="305.96" font-size="7.5" text-anchor="end" textLength="7.59" lengthAdjust="spacingAndGlyphs" stroke="#111" stroke-width="0.26">48</text>
<line x1="299.70" y1="292.30" x2="302.70" y2="292.30" stroke="#111" stroke-width="0.9"/>
<text x="296.10" y="294.80" font-size="7.5" text-anchor="end" textLength="7.59" lengthAdjust="spacingAndGlyphs" stroke="#111" stroke-width="0.26">50</text>
<line x1="309.60" y1="348.10" x2="309.60" y2="350.70" stroke="#111" stroke-width="0.9"/>
<text x="309.60" y="361.30" font-size="7.6" text-anchor="middle" textLength="3.85" lengthAdjust="spacingAndGlyphs" stroke="#111" stroke-width="0.26">0</text>
<line x1="322.06" y1="348.10" x2="322.06" y2="350.70" stroke="#111" stroke-width="0.9"/>
<text x="322.06" y="361.30" font-size="7.6" text-anchor="middle" textLength="3.85" lengthAdjust="spacingAndGlyphs" stroke="#111" stroke-width="0.26">1</text>
<line x1="334.52" y1="348.10" x2="334.52" y2="350.70" stroke="#111" stroke-width="0.9"/>
<text x="334.52" y="361.30" font-size="7.6" text-anchor="middle" textLength="3.85" lengthAdjust="spacingAndGlyphs" stroke="#111" stroke-width="0.26">2</text>
<line x1="346.98" y1="348.10" x2="346.98" y2="350.70" stroke="#111" stroke-width="0.9"/>
<text x="346.98" y="361.30" font-size="7.6" text-anchor="middle" textLength="3.85" lengthAdjust="spacingAndGlyphs" stroke="#111" stroke-width="0.26">3</text>
<line x1="359.44" y1="348.10" x2="359.44" y2="350.70" stroke="#111" stroke-width="0.9"/>
<text x="359.44" y="361.30" font-size="7.6" text-anchor="middle" textLength="3.85" lengthAdjust="spacingAndGlyphs" stroke="#111" stroke-width="0.26">4</text>
<line x1="371.90" y1="348.10" x2="371.90" y2="350.70" stroke="#111" stroke-width="0.9"/>
<text x="371.90" y="361.30" font-size="7.6" text-anchor="middle" textLength="3.85" lengthAdjust="spacingAndGlyphs" stroke="#111" stroke-width="0.26">5</text>
<text x="338.30" y="374.40" font-size="9.0" text-anchor="middle" textLength="12.30" lengthAdjust="spacingAndGlyphs" stroke="#111" stroke-width="0.26">Mo</text>
<text x="338.50" y="288.40" font-size="9.5" text-anchor="middle" textLength="18.50" lengthAdjust="spacingAndGlyphs" stroke="#111" stroke-width="0.26" font-style="italic">MCV</text>
<text x="282.00" y="318.60" font-size="9.4" text-anchor="middle" textLength="8.00" lengthAdjust="spacingAndGlyphs" stroke="#111" stroke-width="0.26" transform="rotate(-90 282.00 318.6)">fL</text>
<polyline points="309.60,325.78 322.06,332.48 334.52,311.83 346.98,311.27 359.44,314.06 371.90,316.29" fill="none" stroke="#ec9a22" stroke-width="1.0"/>
<polyline points="309.60,328.57 322.06,329.69 334.52,325.78 346.98,331.36 359.44,333.59 371.90,335.27" fill="none" stroke="#6cb844" stroke-width="1.0"/>
<polyline points="309.60,325.78 322.06,324.11 334.52,309.04 346.98,307.37 359.44,309.60 371.90,314.06" fill="none" stroke="#1f4a94" stroke-width="1.0"/>
<polyline points="309.60,331.36 322.06,324.11 334.52,319.64 346.98,324.11 359.44,327.45 371.90,328.01" fill="none" stroke="#b3123e" stroke-width="1.0"/>
<line x1="346.98" y1="309.32" x2="346.98" y2="313.23" stroke="#444" stroke-width="0.8"/>
<line x1="345.18" y1="309.32" x2="348.78" y2="309.32" stroke="#444" stroke-width="0.85"/>
<line x1="345.18" y1="313.23" x2="348.78" y2="313.23" stroke="#444" stroke-width="0.85"/>
<line x1="359.44" y1="311.83" x2="359.44" y2="316.29" stroke="#444" stroke-width="0.8"/>
<line x1="357.64" y1="311.83" x2="361.24" y2="311.83" stroke="#444" stroke-width="0.85"/>
<line x1="357.64" y1="316.29" x2="361.24" y2="316.29" stroke="#444" stroke-width="0.85"/>
<line x1="371.90" y1="314.62" x2="371.90" y2="317.97" stroke="#444" stroke-width="0.8"/>
<line x1="370.10" y1="314.62" x2="373.70" y2="314.62" stroke="#444" stroke-width="0.85"/>
<line x1="370.10" y1="317.97" x2="373.70" y2="317.97" stroke="#444" stroke-width="0.85"/>
<line x1="371.90" y1="312.39" x2="371.90" y2="315.74" stroke="#444" stroke-width="0.8"/>
<line x1="370.10" y1="312.39" x2="373.70" y2="312.39" stroke="#444" stroke-width="0.85"/>
<line x1="370.10" y1="315.74" x2="373.70" y2="315.74" stroke="#444" stroke-width="0.85"/>
<circle cx="309.60" cy="325.78" r="1.75" fill="#ec9a22"/>
<circle cx="322.06" cy="332.48" r="1.75" fill="#ec9a22"/>
<circle cx="334.52" cy="311.83" r="1.75" fill="#ec9a22"/>
<circle cx="346.98" cy="311.27" r="1.75" fill="#ec9a22"/>
<circle cx="359.44" cy="314.06" r="1.75" fill="#ec9a22"/>
<circle cx="371.90" cy="316.29" r="1.75" fill="#ec9a22"/>
<polygon points="309.60,326.79 307.95,329.76 311.25,329.76" fill="#6cb844"/>
<polygon points="322.06,327.90 320.41,330.87 323.71,330.87" fill="#6cb844"/>
<polygon points="334.52,324.00 332.87,326.97 336.17,326.97" fill="#6cb844"/>
<polygon points="346.98,329.58 345.33,332.55 348.63,332.55" fill="#6cb844"/>
<polygon points="359.44,331.81 357.79,334.78 361.09,334.78" fill="#6cb844"/>
<polygon points="371.90,333.48 370.25,336.45 373.55,336.45" fill="#6cb844"/>
<circle cx="309.60" cy="325.78" r="1.75" fill="#1f4a94"/>
<circle cx="322.06" cy="324.11" r="1.75" fill="#1f4a94"/>
<circle cx="334.52" cy="309.04" r="1.75" fill="#1f4a94"/>
<circle cx="346.98" cy="307.37" r="1.75" fill="#1f4a94"/>
<circle cx="359.44" cy="309.60" r="1.75" fill="#1f4a94"/>
<circle cx="371.90" cy="314.06" r="1.75" fill="#1f4a94"/>
<circle cx="309.60" cy="331.36" r="1.75" fill="#b3123e"/>
<circle cx="322.06" cy="324.11" r="1.75" fill="#b3123e"/>
<circle cx="334.52" cy="319.64" r="1.75" fill="#b3123e"/>
<circle cx="346.98" cy="324.11" r="1.75" fill="#b3123e"/>
<circle cx="359.44" cy="327.45" r="1.75" fill="#b3123e"/>
<circle cx="371.90" cy="328.01" r="1.75" fill="#b3123e"/>
<path d="M374.60,314.90 H377.70 V328.80 H374.60" fill="none" stroke="#222" stroke-width="1.0"/>
<circle cx="381.90" cy="317.20" r="1.1" fill="#333"/>
<circle cx="381.90" cy="322.20" r="1.1" fill="#333"/>
<circle cx="381.90" cy="327.20" r="1.1" fill="#333"/>
<line x1="434.20" y1="289.70" x2="434.20" y2="348.50" stroke="#111" stroke-width="1.2"/>
<line x1="433.60" y1="347.90" x2="507.30" y2="347.90" stroke="#111" stroke-width="1.2"/>
<line x1="431.20" y1="347.90" x2="434.20" y2="347.90" stroke="#111" stroke-width="0.9"/>
<text x="427.60" y="350.40" font-size="7.5" text-anchor="end" textLength="3.80" lengthAdjust="spacingAndGlyphs" stroke="#111" stroke-width="0.26">0</text>
<line x1="431.20" y1="336.78" x2="434.20" y2="336.78" stroke="#111" stroke-width="0.9"/>
<text x="427.60" y="339.28" font-size="7.5" text-anchor="end" textLength="7.59" lengthAdjust="spacingAndGlyphs" stroke="#111" stroke-width="0.26">50</text>
<line x1="431.20" y1="325.66" x2="434.20" y2="325.66" stroke="#111" stroke-width="0.9"/>
<text x="427.60" y="328.16" font-size="7.5" text-anchor="end" textLength="11.39" lengthAdjust="spacingAndGlyphs" stroke="#111" stroke-width="0.26">100</text>
<line x1="431.20" y1="314.54" x2="434.20" y2="314.54" stroke="#111" stroke-width="0.9"/>
<text x="427.60" y="317.04" font-size="7.5" text-anchor="end" textLength="11.39" lengthAdjust="spacingAndGlyphs" stroke="#111" stroke-width="0.26">150</text>
<line x1="431.20" y1="303.42" x2="434.20" y2="303.42" stroke="#111" stroke-width="0.9"/>
<text x="427.60" y="305.92" font-size="7.5" text-anchor="end" textLength="11.39" lengthAdjust="spacingAndGlyphs" stroke="#111" stroke-width="0.26">200</text>
<line x1="431.20" y1="292.30" x2="434.20" y2="292.30" stroke="#111" stroke-width="0.9"/>
<text x="427.60" y="294.80" font-size="7.5" text-anchor="end" textLength="11.39" lengthAdjust="spacingAndGlyphs" stroke="#111" stroke-width="0.26">250</text>
<line x1="441.50" y1="347.90" x2="441.50" y2="350.50" stroke="#111" stroke-width="0.9"/>
<text x="441.50" y="361.30" font-size="7.6" text-anchor="middle" textLength="3.85" lengthAdjust="spacingAndGlyphs" stroke="#111" stroke-width="0.26">0</text>
<line x1="454.20" y1="347.90" x2="454.20" y2="350.50" stroke="#111" stroke-width="0.9"/>
<text x="454.20" y="361.30" font-size="7.6" text-anchor="middle" textLength="3.85" lengthAdjust="spacingAndGlyphs" stroke="#111" stroke-width="0.26">1</text>
<line x1="466.90" y1="347.90" x2="466.90" y2="350.50" stroke="#111" stroke-width="0.9"/>
<text x="466.90" y="361.30" font-size="7.6" text-anchor="middle" textLength="3.85" lengthAdjust="spacingAndGlyphs" stroke="#111" stroke-width="0.26">2</text>
<line x1="479.60" y1="347.90" x2="479.60" y2="350.50" stroke="#111" stroke-width="0.9"/>
<text x="479.60" y="361.30" font-size="7.6" text-anchor="middle" textLength="3.85" lengthAdjust="spacingAndGlyphs" stroke="#111" stroke-width="0.26">3</text>
<line x1="492.30" y1="347.90" x2="492.30" y2="350.50" stroke="#111" stroke-width="0.9"/>
<text x="492.30" y="361.30" font-size="7.6" text-anchor="middle" textLength="3.85" lengthAdjust="spacingAndGlyphs" stroke="#111" stroke-width="0.26">4</text>
<line x1="505.00" y1="347.90" x2="505.00" y2="350.50" stroke="#111" stroke-width="0.9"/>
<text x="505.00" y="361.30" font-size="7.6" text-anchor="middle" textLength="3.85" lengthAdjust="spacingAndGlyphs" stroke="#111" stroke-width="0.26">5</text>
<text x="470.45" y="374.40" font-size="9.0" text-anchor="middle" textLength="12.30" lengthAdjust="spacingAndGlyphs" stroke="#111" stroke-width="0.26">Mo</text>
<text x="468.50" y="288.40" font-size="9.5" text-anchor="middle" textLength="10.09" lengthAdjust="spacingAndGlyphs" stroke="#111" stroke-width="0.26">Plt</text>
<text x="408.00" y="318.60" font-size="9.2" text-anchor="middle" textLength="23.60" lengthAdjust="spacingAndGlyphs" stroke="#111" stroke-width="0.26" transform="rotate(-90 408.00 318.6)">10<tspan font-size="5.5" dy="-3">4</tspan><tspan dy="3">/&#181;l</tspan></text>
<polyline points="441.50,330.11 454.20,314.98 466.90,305.64 479.60,315.21 492.30,323.88 505.00,321.66" fill="none" stroke="#ec9a22" stroke-width="1.0"/>
<polyline points="441.50,330.55 454.20,327.88 466.90,323.44 479.60,326.77 492.30,326.10 505.00,326.10" fill="none" stroke="#6cb844" stroke-width="1.0"/>
<polyline points="441.50,330.55 454.20,323.21 466.90,313.87 479.60,312.98 492.30,312.98 505.00,312.32" fill="none" stroke="#1f4a94" stroke-width="1.0"/>
<polyline points="441.50,331.22 454.20,329.44 466.90,325.88 479.60,326.33 492.30,325.44 505.00,324.99" fill="none" stroke="#b3123e" stroke-width="1.0"/>
<line x1="466.90" y1="303.86" x2="466.90" y2="307.42" stroke="#444" stroke-width="0.8"/>
<line x1="465.10" y1="303.86" x2="468.70" y2="303.86" stroke="#444" stroke-width="0.85"/>
<line x1="465.10" y1="307.42" x2="468.70" y2="307.42" stroke="#444" stroke-width="0.85"/>
<line x1="479.60" y1="313.21" x2="479.60" y2="317.21" stroke="#444" stroke-width="0.8"/>
<line x1="477.80" y1="313.21" x2="481.40" y2="313.21" stroke="#444" stroke-width="0.85"/>
<line x1="477.80" y1="317.21" x2="481.40" y2="317.21" stroke="#444" stroke-width="0.85"/>
<line x1="466.90" y1="312.32" x2="466.90" y2="315.43" stroke="#444" stroke-width="0.8"/>
<line x1="465.10" y1="312.32" x2="468.70" y2="312.32" stroke="#444" stroke-width="0.85"/>
<line x1="465.10" y1="315.43" x2="468.70" y2="315.43" stroke="#444" stroke-width="0.85"/>
<line x1="479.60" y1="311.43" x2="479.60" y2="314.54" stroke="#444" stroke-width="0.8"/>
<line x1="477.80" y1="311.43" x2="481.40" y2="311.43" stroke="#444" stroke-width="0.85"/>
<line x1="477.80" y1="314.54" x2="481.40" y2="314.54" stroke="#444" stroke-width="0.85"/>
<line x1="505.00" y1="309.65" x2="505.00" y2="314.98" stroke="#444" stroke-width="0.8"/>
<line x1="503.20" y1="309.65" x2="506.80" y2="309.65" stroke="#444" stroke-width="0.85"/>
<line x1="503.20" y1="314.98" x2="506.80" y2="314.98" stroke="#444" stroke-width="0.85"/>
<line x1="492.30" y1="322.10" x2="492.30" y2="325.66" stroke="#444" stroke-width="0.8"/>
<line x1="490.50" y1="322.10" x2="494.10" y2="322.10" stroke="#444" stroke-width="0.85"/>
<line x1="490.50" y1="325.66" x2="494.10" y2="325.66" stroke="#444" stroke-width="0.85"/>
<line x1="479.60" y1="325.22" x2="479.60" y2="328.33" stroke="#444" stroke-width="0.8"/>
<line x1="477.80" y1="325.22" x2="481.40" y2="325.22" stroke="#444" stroke-width="0.85"/>
<line x1="477.80" y1="328.33" x2="481.40" y2="328.33" stroke="#444" stroke-width="0.85"/>
<line x1="492.30" y1="324.55" x2="492.30" y2="327.66" stroke="#444" stroke-width="0.8"/>
<line x1="490.50" y1="324.55" x2="494.10" y2="324.55" stroke="#444" stroke-width="0.85"/>
<line x1="490.50" y1="327.66" x2="494.10" y2="327.66" stroke="#444" stroke-width="0.85"/>
<line x1="505.00" y1="324.55" x2="505.00" y2="327.66" stroke="#444" stroke-width="0.8"/>
<line x1="503.20" y1="324.55" x2="506.80" y2="324.55" stroke="#444" stroke-width="0.85"/>
<line x1="503.20" y1="327.66" x2="506.80" y2="327.66" stroke="#444" stroke-width="0.85"/>
<circle cx="441.50" cy="330.11" r="1.75" fill="#ec9a22"/>
<circle cx="454.20" cy="314.98" r="1.75" fill="#ec9a22"/>
<circle cx="466.90" cy="305.64" r="1.75" fill="#ec9a22"/>
<circle cx="479.60" cy="315.21" r="1.75" fill="#ec9a22"/>
<circle cx="492.30" cy="323.88" r="1.75" fill="#ec9a22"/>
<circle cx="505.00" cy="321.66" r="1.75" fill="#ec9a22"/>
<polygon points="441.50,328.77 439.85,331.74 443.15,331.74" fill="#6cb844"/>
<polygon points="454.20,326.10 452.55,329.07 455.85,329.07" fill="#6cb844"/>
<polygon points="466.90,321.65 465.25,324.62 468.55,324.62" fill="#6cb844"/>
<polygon points="479.60,324.99 477.95,327.96 481.25,327.96" fill="#6cb844"/>
<polygon points="492.30,324.32 490.65,327.29 493.95,327.29" fill="#6cb844"/>
<polygon points="505.00,324.32 503.35,327.29 506.65,327.29" fill="#6cb844"/>
<circle cx="441.50" cy="330.55" r="1.75" fill="#1f4a94"/>
<circle cx="454.20" cy="323.21" r="1.75" fill="#1f4a94"/>
<circle cx="466.90" cy="313.87" r="1.75" fill="#1f4a94"/>
<circle cx="479.60" cy="312.98" r="1.75" fill="#1f4a94"/>
<circle cx="492.30" cy="312.98" r="1.75" fill="#1f4a94"/>
<circle cx="505.00" cy="312.32" r="1.75" fill="#1f4a94"/>
<circle cx="441.50" cy="331.22" r="1.75" fill="#b3123e"/>
<circle cx="454.20" cy="329.44" r="1.75" fill="#b3123e"/>
<circle cx="466.90" cy="325.88" r="1.75" fill="#b3123e"/>
<circle cx="479.60" cy="326.33" r="1.75" fill="#b3123e"/>
<circle cx="492.30" cy="325.44" r="1.75" fill="#b3123e"/>
<circle cx="505.00" cy="324.99" r="1.75" fill="#b3123e"/>
<line x1="53.60" y1="405.00" x2="53.60" y2="471.40" stroke="#111" stroke-width="1.2"/>
<line x1="53.00" y1="470.80" x2="131.70" y2="470.80" stroke="#111" stroke-width="1.2"/>
<line x1="50.60" y1="470.80" x2="53.60" y2="470.80" stroke="#111" stroke-width="0.9"/>
<text x="47.20" y="473.30" font-size="7.5" text-anchor="end" textLength="3.80" lengthAdjust="spacingAndGlyphs" stroke="#111" stroke-width="0.26">0</text>
<line x1="50.60" y1="460.23" x2="53.60" y2="460.23" stroke="#111" stroke-width="0.9"/>
<text x="47.20" y="462.73" font-size="7.5" text-anchor="end" textLength="7.59" lengthAdjust="spacingAndGlyphs" stroke="#111" stroke-width="0.26">50</text>
<line x1="50.60" y1="449.67" x2="53.60" y2="449.67" stroke="#111" stroke-width="0.9"/>
<text x="47.20" y="452.17" font-size="7.5" text-anchor="end" textLength="11.39" lengthAdjust="spacingAndGlyphs" stroke="#111" stroke-width="0.26">100</text>
<line x1="50.60" y1="439.10" x2="53.60" y2="439.10" stroke="#111" stroke-width="0.9"/>
<text x="47.20" y="441.60" font-size="7.5" text-anchor="end" textLength="11.39" lengthAdjust="spacingAndGlyphs" stroke="#111" stroke-width="0.26">150</text>
<line x1="50.60" y1="428.53" x2="53.60" y2="428.53" stroke="#111" stroke-width="0.9"/>
<text x="47.20" y="431.03" font-size="7.5" text-anchor="end" textLength="11.39" lengthAdjust="spacingAndGlyphs" stroke="#111" stroke-width="0.26">200</text>
<line x1="50.60" y1="417.97" x2="53.60" y2="417.97" stroke="#111" stroke-width="0.9"/>
<text x="47.20" y="420.47" font-size="7.5" text-anchor="end" textLength="11.39" lengthAdjust="spacingAndGlyphs" stroke="#111" stroke-width="0.26">250</text>
<line x1="50.60" y1="407.40" x2="53.60" y2="407.40" stroke="#111" stroke-width="0.9"/>
<line x1="63.40" y1="470.80" x2="63.40" y2="473.60" stroke="#111" stroke-width="0.9"/>
<text x="68.40" y="481.30" font-size="8.0" text-anchor="end" textLength="11.32" lengthAdjust="spacingAndGlyphs" stroke="#111" stroke-width="0.26" transform="rotate(-45 68.40 481.3)">WT</text>
<line x1="78.10" y1="470.80" x2="78.10" y2="473.60" stroke="#111" stroke-width="0.9"/>
<text x="83.10" y="481.30" font-size="8.0" text-anchor="end" textLength="24.29" lengthAdjust="spacingAndGlyphs" stroke="#111" stroke-width="0.26" transform="rotate(-45 83.10 481.3)">&#916;E9-10</text>
<line x1="93.30" y1="470.80" x2="93.30" y2="473.60" stroke="#111" stroke-width="0.9"/>
<text x="98.30" y="481.30" font-size="8.0" text-anchor="end" textLength="19.43" lengthAdjust="spacingAndGlyphs" stroke="#111" stroke-width="0.26" transform="rotate(-45 98.30 481.3)">&#916;Tet2</text>
<line x1="107.50" y1="470.80" x2="107.50" y2="473.60" stroke="#111" stroke-width="0.9"/>
<text x="112.50" y="481.30" font-size="8.0" text-anchor="end" textLength="15.78" lengthAdjust="spacingAndGlyphs" stroke="#111" stroke-width="0.26" transform="rotate(-45 112.50 481.3)">DKO</text>
<line x1="121.10" y1="470.80" x2="121.10" y2="473.60" stroke="#111" stroke-width="0.9"/>
<text x="126.10" y="481.30" font-size="8.0" text-anchor="end" textLength="16.18" lengthAdjust="spacingAndGlyphs" stroke="#111" stroke-width="0.26" transform="rotate(-45 126.10 481.3)">MDS</text>
<text x="92.50" y="397.70" font-size="9.5" text-anchor="middle" textLength="18.80" lengthAdjust="spacingAndGlyphs" stroke="#111" stroke-width="0.26">WBC</text>
<text x="29.25" y="437.80" font-size="9.2" text-anchor="middle" textLength="23.60" lengthAdjust="spacingAndGlyphs" stroke="#111" stroke-width="0.26" transform="rotate(-90 29.25 437.8)">10<tspan font-size="5.5" dy="-3">2</tspan><tspan dy="3">/&#181;l</tspan></text>
<circle cx="64.40" cy="410.57" r="1.75" fill="none" stroke="#b3123e" stroke-width="0.95"/>
<circle cx="65.40" cy="415.85" r="1.75" fill="none" stroke="#b3123e" stroke-width="0.95"/>
<circle cx="63.40" cy="420.08" r="1.75" fill="none" stroke="#b3123e" stroke-width="0.95"/>
<circle cx="62.40" cy="419.02" r="1.75" fill="none" stroke="#b3123e" stroke-width="0.95"/>
<circle cx="65.90" cy="423.25" r="1.75" fill="none" stroke="#b3123e" stroke-width="0.95"/>
<circle cx="61.40" cy="426.42" r="1.75" fill="none" stroke="#b3123e" stroke-width="0.95"/>
<circle cx="64.90" cy="427.48" r="1.75" fill="none" stroke="#b3123e" stroke-width="0.95"/>
<circle cx="61.90" cy="428.96" r="1.75" fill="none" stroke="#b3123e" stroke-width="0.95"/>
<circle cx="63.40" cy="428.53" r="1.75" fill="none" stroke="#b3123e" stroke-width="0.95"/>
<circle cx="66.40" cy="432.76" r="1.75" fill="none" stroke="#b3123e" stroke-width="0.95"/>
<circle cx="61.40" cy="433.82" r="1.75" fill="none" stroke="#b3123e" stroke-width="0.95"/>
<circle cx="64.40" cy="434.87" r="1.75" fill="none" stroke="#b3123e" stroke-width="0.95"/>
<circle cx="62.40" cy="436.99" r="1.75" fill="none" stroke="#b3123e" stroke-width="0.95"/>
<circle cx="63.40" cy="439.52" r="1.75" fill="none" stroke="#b3123e" stroke-width="0.95"/>
<circle cx="79.16" cy="450.11" r="2.0" fill="#1f4a94"/>
<circle cx="75.11" cy="446.87" r="2.0" fill="#1f4a94"/>
<circle cx="75.01" cy="452.96" r="2.0" fill="#1f4a94"/>
<circle cx="78.15" cy="449.93" r="2.0" fill="#1f4a94"/>
<circle cx="75.09" cy="444.65" r="2.0" fill="#1f4a94"/>
<circle cx="75.23" cy="447.98" r="2.0" fill="#1f4a94"/>
<circle cx="75.47" cy="456.07" r="2.0" fill="#1f4a94"/>
<circle cx="76.16" cy="445.42" r="2.0" fill="#1f4a94"/>
<circle cx="78.64" cy="456.18" r="2.0" fill="#1f4a94"/>
<circle cx="77.38" cy="456.40" r="2.0" fill="#1f4a94"/>
<circle cx="80.61" cy="447.74" r="2.0" fill="#1f4a94"/>
<circle cx="76.63" cy="449.23" r="2.0" fill="#1f4a94"/>
<circle cx="76.76" cy="447.73" r="2.0" fill="#1f4a94"/>
<circle cx="80.31" cy="447.37" r="2.0" fill="#1f4a94"/>
<circle cx="79.07" cy="446.68" r="2.0" fill="#1f4a94"/>
<circle cx="77.21" cy="443.97" r="2.0" fill="#1f4a94"/>
<circle cx="75.02" cy="450.49" r="2.0" fill="#1f4a94"/>
<circle cx="76.04" cy="449.48" r="2.0" fill="#1f4a94"/>
<circle cx="76.80" cy="450.92" r="2.0" fill="#1f4a94"/>
<circle cx="78.70" cy="453.08" r="2.0" fill="#1f4a94"/>
<circle cx="80.16" cy="452.45" r="2.0" fill="#1f4a94"/>
<circle cx="79.49" cy="448.00" r="2.0" fill="#1f4a94"/>
<polygon points="93.30,429.38 91.15,433.25 95.45,433.25" fill="#6cb844"/>
<polygon points="92.30,433.61 90.15,437.48 94.45,437.48" fill="#6cb844"/>
<polygon points="94.80,434.66 92.65,438.53 96.95,438.53" fill="#6cb844"/>
<polygon points="90.80,436.78 88.65,440.65 92.95,440.65" fill="#6cb844"/>
<polygon points="94.30,441.00 92.15,444.87 96.45,444.87" fill="#6cb844"/>
<polygon points="92.80,442.06 90.65,445.93 94.95,445.93" fill="#6cb844"/>
<circle cx="107.65" cy="456.67" r="2.0" fill="#ec9a22"/>
<circle cx="109.75" cy="451.88" r="2.0" fill="#ec9a22"/>
<circle cx="110.38" cy="457.26" r="2.0" fill="#ec9a22"/>
<circle cx="105.21" cy="459.96" r="2.0" fill="#ec9a22"/>
<circle cx="105.41" cy="462.42" r="2.0" fill="#ec9a22"/>
<circle cx="107.43" cy="453.70" r="2.0" fill="#ec9a22"/>
<circle cx="109.09" cy="451.37" r="2.0" fill="#ec9a22"/>
<circle cx="107.94" cy="455.47" r="2.0" fill="#ec9a22"/>
<circle cx="108.67" cy="454.51" r="2.0" fill="#ec9a22"/>
<circle cx="108.07" cy="459.18" r="2.0" fill="#ec9a22"/>
<circle cx="109.54" cy="460.53" r="2.0" fill="#ec9a22"/>
<circle cx="110.17" cy="458.87" r="2.0" fill="#ec9a22"/>
<circle cx="104.86" cy="462.40" r="2.0" fill="#ec9a22"/>
<circle cx="108.71" cy="455.94" r="2.0" fill="#ec9a22"/>
<circle cx="124.10" cy="446.92" r="1.75" fill="none" stroke="#5a2a82" stroke-width="0.95"/>
<circle cx="120.10" cy="449.67" r="1.75" fill="none" stroke="#5a2a82" stroke-width="0.95"/>
<circle cx="122.10" cy="451.78" r="1.75" fill="none" stroke="#5a2a82" stroke-width="0.95"/>
<circle cx="124.60" cy="455.58" r="1.75" fill="none" stroke="#5a2a82" stroke-width="0.95"/>
<circle cx="119.10" cy="453.89" r="1.75" fill="none" stroke="#5a2a82" stroke-width="0.95"/>
<circle cx="123.10" cy="458.12" r="1.75" fill="none" stroke="#5a2a82" stroke-width="0.95"/>
<circle cx="119.10" cy="459.18" r="1.75" fill="none" stroke="#5a2a82" stroke-width="0.95"/>
<circle cx="122.10" cy="460.23" r="1.75" fill="none" stroke="#5a2a82" stroke-width="0.95"/>
<circle cx="121.10" cy="463.40" r="1.75" fill="none" stroke="#5a2a82" stroke-width="0.95"/>
<circle cx="122.60" cy="464.88" r="1.75" fill="none" stroke="#5a2a82" stroke-width="0.95"/>
<circle cx="120.10" cy="462.35" r="1.75" fill="none" stroke="#5a2a82" stroke-width="0.95"/>
<circle cx="123.10" cy="456.01" r="1.75" fill="none" stroke="#5a2a82" stroke-width="0.95"/>
<line x1="56.90" y1="427.48" x2="69.90" y2="427.48" stroke="#111" stroke-width="1.6"/>
<line x1="71.60" y1="449.03" x2="84.60" y2="449.03" stroke="#111" stroke-width="1.6"/>
<line x1="86.80" y1="438.04" x2="99.80" y2="438.04" stroke="#111" stroke-width="1.6"/>
<line x1="101.00" y1="456.64" x2="114.00" y2="456.64" stroke="#111" stroke-width="1.6"/>
<line x1="114.60" y1="457.70" x2="127.60" y2="457.70" stroke="#111" stroke-width="1.6"/>
<circle cx="78.10" cy="416.30" r="1.05" fill="#333"/>
<circle cx="78.10" cy="421.70" r="1.05" fill="#333"/>
<circle cx="78.10" cy="427.10" r="1.05" fill="#333"/>
<circle cx="93.30" cy="420.40" r="1.05" fill="#333"/>
<circle cx="93.30" cy="425.80" r="1.05" fill="#333"/>
<circle cx="107.50" cy="429.10" r="1.05" fill="#333"/>
<circle cx="107.50" cy="434.30" r="1.05" fill="#333"/>
<circle cx="107.50" cy="439.70" r="1.05" fill="#333"/>
<circle cx="121.10" cy="429.10" r="1.05" fill="#333"/>
<circle cx="121.10" cy="434.30" r="1.05" fill="#333"/>
<circle cx="121.10" cy="439.70" r="1.05" fill="#333"/>
<line x1="178.70" y1="405.00" x2="178.70" y2="471.20" stroke="#111" stroke-width="1.2"/>
<line x1="178.10" y1="470.60" x2="256.50" y2="470.60" stroke="#111" stroke-width="1.2"/>
<line x1="175.70" y1="470.60" x2="178.70" y2="470.60" stroke="#111" stroke-width="0.9"/>
<text x="172.30" y="473.10" font-size="7.5" text-anchor="end" textLength="3.80" lengthAdjust="spacingAndGlyphs" stroke="#111" stroke-width="0.26">0</text>
<line x1="175.70" y1="454.83" x2="178.70" y2="454.83" stroke="#111" stroke-width="0.9"/>
<text x="172.30" y="457.33" font-size="7.5" text-anchor="end" textLength="3.80" lengthAdjust="spacingAndGlyphs" stroke="#111" stroke-width="0.26">5</text>
<line x1="175.70" y1="439.05" x2="178.70" y2="439.05" stroke="#111" stroke-width="0.9"/>
<text x="172.30" y="441.55" font-size="7.5" text-anchor="end" textLength="7.59" lengthAdjust="spacingAndGlyphs" stroke="#111" stroke-width="0.26">10</text>
<line x1="175.70" y1="423.27" x2="178.70" y2="423.27" stroke="#111" stroke-width="0.9"/>
<text x="172.30" y="425.77" font-size="7.5" text-anchor="end" textLength="7.59" lengthAdjust="spacingAndGlyphs" stroke="#111" stroke-width="0.26">15</text>
<line x1="175.70" y1="407.50" x2="178.70" y2="407.50" stroke="#111" stroke-width="0.9"/>
<text x="172.30" y="410.00" font-size="7.5" text-anchor="end" textLength="7.59" lengthAdjust="spacingAndGlyphs" stroke="#111" stroke-width="0.26">20</text>
<line x1="187.30" y1="470.60" x2="187.30" y2="473.40" stroke="#111" stroke-width="0.9"/>
<text x="192.30" y="481.30" font-size="8.0" text-anchor="end" textLength="11.32" lengthAdjust="spacingAndGlyphs" stroke="#111" stroke-width="0.26" transform="rotate(-45 192.30 481.3)">WT</text>
<line x1="202.50" y1="470.60" x2="202.50" y2="473.40" stroke="#111" stroke-width="0.9"/>
<text x="207.50" y="481.30" font-size="8.0" text-anchor="end" textLength="24.29" lengthAdjust="spacingAndGlyphs" stroke="#111" stroke-width="0.26" transform="rotate(-45 207.50 481.3)">&#916;E9-10</text>
<line x1="217.10" y1="470.60" x2="217.10" y2="473.40" stroke="#111" stroke-width="0.9"/>
<text x="222.10" y="481.30" font-size="8.0" text-anchor="end" textLength="19.43" lengthAdjust="spacingAndGlyphs" stroke="#111" stroke-width="0.26" transform="rotate(-45 222.10 481.3)">&#916;Tet2</text>
<line x1="231.80" y1="470.60" x2="231.80" y2="473.40" stroke="#111" stroke-width="0.9"/>
<text x="236.80" y="481.30" font-size="8.0" text-anchor="end" textLength="15.78" lengthAdjust="spacingAndGlyphs" stroke="#111" stroke-width="0.26" transform="rotate(-45 236.80 481.3)">DKO</text>
<line x1="247.00" y1="470.60" x2="247.00" y2="473.40" stroke="#111" stroke-width="0.9"/>
<text x="252.00" y="481.30" font-size="8.0" text-anchor="end" textLength="16.18" lengthAdjust="spacingAndGlyphs" stroke="#111" stroke-width="0.26" transform="rotate(-45 252.00 481.3)">MDS</text>
<text x="217.00" y="397.70" font-size="9.5" text-anchor="middle" textLength="11.05" lengthAdjust="spacingAndGlyphs" stroke="#111" stroke-width="0.26">Hb</text>
<text x="159.25" y="437.80" font-size="7.2" text-anchor="middle" textLength="15.00" lengthAdjust="spacingAndGlyphs" stroke="#111" stroke-width="0.26" transform="rotate(-90 159.25 437.8)">g/dl</text>
<circle cx="189.23" cy="428.76" r="1.75" fill="none" stroke="#b3123e" stroke-width="0.95"/>
<circle cx="186.01" cy="429.59" r="1.75" fill="none" stroke="#b3123e" stroke-width="0.95"/>
<circle cx="184.44" cy="427.29" r="1.75" fill="none" stroke="#b3123e" stroke-width="0.95"/>
<circle cx="187.07" cy="423.32" r="1.75" fill="none" stroke="#b3123e" stroke-width="0.95"/>
<circle cx="184.65" cy="424.70" r="1.75" fill="none" stroke="#b3123e" stroke-width="0.95"/>
<circle cx="188.91" cy="424.35" r="1.75" fill="none" stroke="#b3123e" stroke-width="0.95"/>
<circle cx="186.65" cy="424.19" r="1.75" fill="none" stroke="#b3123e" stroke-width="0.95"/>
<circle cx="189.53" cy="424.13" r="1.75" fill="none" stroke="#b3123e" stroke-width="0.95"/>
<circle cx="187.60" cy="423.36" r="1.75" fill="none" stroke="#b3123e" stroke-width="0.95"/>
<circle cx="189.60" cy="424.17" r="1.75" fill="none" stroke="#b3123e" stroke-width="0.95"/>
<circle cx="185.97" cy="423.57" r="1.75" fill="none" stroke="#b3123e" stroke-width="0.95"/>
<circle cx="186.79" cy="428.60" r="1.75" fill="none" stroke="#b3123e" stroke-width="0.95"/>
<circle cx="205.25" cy="431.63" r="2.0" fill="#1f4a94"/>
<circle cx="200.41" cy="424.26" r="2.0" fill="#1f4a94"/>
<circle cx="200.90" cy="427.50" r="2.0" fill="#1f4a94"/>
<circle cx="202.41" cy="426.68" r="2.0" fill="#1f4a94"/>
<circle cx="199.52" cy="429.99" r="2.0" fill="#1f4a94"/>
<circle cx="202.01" cy="429.37" r="2.0" fill="#1f4a94"/>
<circle cx="205.22" cy="430.55" r="2.0" fill="#1f4a94"/>
<circle cx="203.64" cy="425.93" r="2.0" fill="#1f4a94"/>
<circle cx="203.56" cy="431.81" r="2.0" fill="#1f4a94"/>
<circle cx="199.82" cy="428.66" r="2.0" fill="#1f4a94"/>
<circle cx="204.75" cy="424.78" r="2.0" fill="#1f4a94"/>
<circle cx="204.29" cy="430.91" r="2.0" fill="#1f4a94"/>
<circle cx="200.12" cy="430.31" r="2.0" fill="#1f4a94"/>
<circle cx="203.31" cy="426.73" r="2.0" fill="#1f4a94"/>
<circle cx="200.75" cy="427.45" r="2.0" fill="#1f4a94"/>
<circle cx="200.47" cy="427.96" r="2.0" fill="#1f4a94"/>
<polygon points="214.10,426.77 211.95,430.64 216.25,430.64" fill="#6cb844"/>
<polygon points="215.01,426.41 212.86,430.28 217.16,430.28" fill="#6cb844"/>
<polygon points="214.25,426.03 212.10,429.90 216.40,429.90" fill="#6cb844"/>
<polygon points="219.35,426.19 217.20,430.06 221.50,430.06" fill="#6cb844"/>
<polygon points="215.61,426.97 213.46,430.84 217.76,430.84" fill="#6cb844"/>
<polygon points="216.18,426.93 214.03,430.80 218.33,430.80" fill="#6cb844"/>
<polygon points="219.19,426.90 217.04,430.77 221.34,430.77" fill="#6cb844"/>
<polygon points="220.06,426.33 217.91,430.20 222.21,430.20" fill="#6cb844"/>
<polygon points="214.62,427.52 212.47,431.39 216.77,431.39" fill="#6cb844"/>
<polygon points="214.71,426.44 212.56,430.31 216.86,430.31" fill="#6cb844"/>
<circle cx="228.80" cy="433.37" r="2.0" fill="#ec9a22"/>
<circle cx="230.80" cy="432.74" r="2.0" fill="#ec9a22"/>
<circle cx="232.80" cy="433.06" r="2.0" fill="#ec9a22"/>
<circle cx="234.30" cy="434.63" r="2.0" fill="#ec9a22"/>
<circle cx="231.80" cy="435.26" r="2.0" fill="#ec9a22"/>
<circle cx="234.80" cy="436.53" r="2.0" fill="#ec9a22"/>
<circle cx="230.80" cy="434.32" r="2.0" fill="#ec9a22"/>
<circle cx="228.30" cy="442.21" r="2.0" fill="#ec9a22"/>
<circle cx="232.30" cy="433.69" r="2.0" fill="#ec9a22"/>
<circle cx="245.00" cy="435.89" r="1.75" fill="none" stroke="#5a2a82" stroke-width="0.95"/>
<circle cx="248.50" cy="435.58" r="1.75" fill="none" stroke="#5a2a82" stroke-width="0.95"/>
<circle cx="246.00" cy="440.63" r="1.75" fill="none" stroke="#5a2a82" stroke-width="0.95"/>
<circle cx="249.00" cy="440.94" r="1.75" fill="none" stroke="#5a2a82" stroke-width="0.95"/>
<circle cx="248.00" cy="442.21" r="1.75" fill="none" stroke="#5a2a82" stroke-width="0.95"/>
<circle cx="246.00" cy="442.84" r="1.75" fill="none" stroke="#5a2a82" stroke-width="0.95"/>
<circle cx="244.50" cy="449.15" r="1.75" fill="none" stroke="#5a2a82" stroke-width="0.95"/>
<circle cx="247.00" cy="457.03" r="1.75" fill="none" stroke="#5a2a82" stroke-width="0.95"/>
<circle cx="247.00" cy="465.24" r="1.75" fill="none" stroke="#5a2a82" stroke-width="0.95"/>
<circle cx="248.50" cy="439.68" r="1.75" fill="none" stroke="#5a2a82" stroke-width="0.95"/>
<line x1="180.80" y1="425.17" x2="193.80" y2="425.17" stroke="#111" stroke-width="1.6"/>
<line x1="196.00" y1="428.32" x2="209.00" y2="428.32" stroke="#111" stroke-width="1.6"/>
<line x1="210.60" y1="428.95" x2="223.60" y2="428.95" stroke="#111" stroke-width="1.6"/>
<line x1="225.30" y1="434.00" x2="238.30" y2="434.00" stroke="#111" stroke-width="1.6"/>
<line x1="240.50" y1="445.04" x2="253.50" y2="445.04" stroke="#111" stroke-width="1.6"/>
<circle cx="202.50" cy="407.10" r="1.05" fill="#333"/>
<circle cx="202.50" cy="412.30" r="1.05" fill="#333"/>
<circle cx="202.50" cy="417.80" r="1.05" fill="#333"/>
<circle cx="217.10" cy="413.70" r="1.05" fill="#333"/>
<circle cx="217.10" cy="419.20" r="1.05" fill="#333"/>
<circle cx="231.80" cy="416.30" r="1.05" fill="#333"/>
<circle cx="231.80" cy="421.50" r="1.05" fill="#333"/>
<circle cx="231.80" cy="426.70" r="1.05" fill="#333"/>
<circle cx="247.00" cy="418.00" r="1.05" fill="#333"/>
<circle cx="247.00" cy="423.50" r="1.05" fill="#333"/>
<circle cx="247.00" cy="429.00" r="1.05" fill="#333"/>
<line x1="302.30" y1="405.00" x2="302.30" y2="471.40" stroke="#111" stroke-width="1.2"/>
<line x1="301.70" y1="470.80" x2="380.70" y2="470.80" stroke="#111" stroke-width="1.2"/>
<line x1="299.30" y1="470.80" x2="302.30" y2="470.80" stroke="#111" stroke-width="0.9"/>
<text x="295.90" y="473.30" font-size="7.5" text-anchor="end" textLength="7.59" lengthAdjust="spacingAndGlyphs" stroke="#111" stroke-width="0.26">35</text>
<line x1="299.30" y1="458.14" x2="302.30" y2="458.14" stroke="#111" stroke-width="0.9"/>
<text x="295.90" y="460.64" font-size="7.5" text-anchor="end" textLength="7.59" lengthAdjust="spacingAndGlyphs" stroke="#111" stroke-width="0.26">40</text>
<line x1="299.30" y1="445.48" x2="302.30" y2="445.48" stroke="#111" stroke-width="0.9"/>
<text x="295.90" y="447.98" font-size="7.5" text-anchor="end" textLength="7.59" lengthAdjust="spacingAndGlyphs" stroke="#111" stroke-width="0.26">45</text>
<line x1="299.30" y1="432.82" x2="302.30" y2="432.82" stroke="#111" stroke-width="0.9"/>
<text x="295.90" y="435.32" font-size="7.5" text-anchor="end" textLength="7.59" lengthAdjust="spacingAndGlyphs" stroke="#111" stroke-width="0.26">50</text>
<line x1="299.30" y1="420.16" x2="302.30" y2="420.16" stroke="#111" stroke-width="0.9"/>
<text x="295.90" y="422.66" font-size="7.5" text-anchor="end" textLength="7.59" lengthAdjust="spacingAndGlyphs" stroke="#111" stroke-width="0.26">55</text>
<line x1="299.30" y1="407.50" x2="302.30" y2="407.50" stroke="#111" stroke-width="0.9"/>
<text x="295.90" y="410.00" font-size="7.5" text-anchor="end" textLength="7.59" lengthAdjust="spacingAndGlyphs" stroke="#111" stroke-width="0.26">60</text>
<line x1="311.80" y1="470.80" x2="311.80" y2="473.60" stroke="#111" stroke-width="0.9"/>
<text x="316.80" y="481.30" font-size="8.0" text-anchor="end" textLength="11.32" lengthAdjust="spacingAndGlyphs" stroke="#111" stroke-width="0.26" transform="rotate(-45 316.80 481.3)">WT</text>
<line x1="326.70" y1="470.80" x2="326.70" y2="473.60" stroke="#111" stroke-width="0.9"/>
<text x="331.70" y="481.30" font-size="8.0" text-anchor="end" textLength="24.29" lengthAdjust="spacingAndGlyphs" stroke="#111" stroke-width="0.26" transform="rotate(-45 331.70 481.3)">&#916;E9-10</text>
<line x1="341.40" y1="470.80" x2="341.40" y2="473.60" stroke="#111" stroke-width="0.9"/>
<text x="346.40" y="481.30" font-size="8.0" text-anchor="end" textLength="19.43" lengthAdjust="spacingAndGlyphs" stroke="#111" stroke-width="0.26" transform="rotate(-45 346.40 481.3)">&#916;Tet2</text>
<line x1="356.40" y1="470.80" x2="356.40" y2="473.60" stroke="#111" stroke-width="0.9"/>
<text x="361.40" y="481.30" font-size="8.0" text-anchor="end" textLength="15.78" lengthAdjust="spacingAndGlyphs" stroke="#111" stroke-width="0.26" transform="rotate(-45 361.40 481.3)">DKO</text>
<line x1="371.20" y1="470.80" x2="371.20" y2="473.60" stroke="#111" stroke-width="0.9"/>
<text x="376.20" y="481.30" font-size="8.0" text-anchor="end" textLength="16.18" lengthAdjust="spacingAndGlyphs" stroke="#111" stroke-width="0.26" transform="rotate(-45 376.20 481.3)">MDS</text>
<text x="341.25" y="397.70" font-size="9.5" text-anchor="middle" textLength="19.21" lengthAdjust="spacingAndGlyphs" stroke="#111" stroke-width="0.26">MCV</text>
<text x="281.75" y="437.80" font-size="9.2" text-anchor="middle" textLength="8.00" lengthAdjust="spacingAndGlyphs" stroke="#111" stroke-width="0.26" transform="rotate(-90 281.75 437.8)">fL</text>
<circle cx="313.77" cy="448.02" r="1.75" fill="none" stroke="#b3123e" stroke-width="0.95"/>
<circle cx="309.77" cy="446.09" r="1.75" fill="none" stroke="#b3123e" stroke-width="0.95"/>
<circle cx="311.97" cy="444.21" r="1.75" fill="none" stroke="#b3123e" stroke-width="0.95"/>
<circle cx="309.68" cy="446.62" r="1.75" fill="none" stroke="#b3123e" stroke-width="0.95"/>
<circle cx="311.97" cy="447.65" r="1.75" fill="none" stroke="#b3123e" stroke-width="0.95"/>
<circle cx="314.67" cy="447.36" r="1.75" fill="none" stroke="#b3123e" stroke-width="0.95"/>
<circle cx="310.37" cy="445.46" r="1.75" fill="none" stroke="#b3123e" stroke-width="0.95"/>
<circle cx="311.00" cy="449.32" r="1.75" fill="none" stroke="#b3123e" stroke-width="0.95"/>
<circle cx="312.00" cy="445.73" r="1.75" fill="none" stroke="#b3123e" stroke-width="0.95"/>
<circle cx="313.47" cy="444.61" r="1.75" fill="none" stroke="#b3123e" stroke-width="0.95"/>
<circle cx="313.67" cy="447.86" r="1.75" fill="none" stroke="#b3123e" stroke-width="0.95"/>
<circle cx="314.71" cy="446.15" r="1.75" fill="none" stroke="#b3123e" stroke-width="0.95"/>
<circle cx="328.61" cy="435.57" r="2.0" fill="#1f4a94"/>
<circle cx="328.14" cy="443.91" r="2.0" fill="#1f4a94"/>
<circle cx="325.83" cy="438.57" r="2.0" fill="#1f4a94"/>
<circle cx="323.87" cy="435.22" r="2.0" fill="#1f4a94"/>
<circle cx="325.26" cy="436.53" r="2.0" fill="#1f4a94"/>
<circle cx="327.86" cy="438.68" r="2.0" fill="#1f4a94"/>
<circle cx="329.32" cy="435.70" r="2.0" fill="#1f4a94"/>
<circle cx="329.63" cy="440.12" r="2.0" fill="#1f4a94"/>
<circle cx="325.02" cy="436.14" r="2.0" fill="#1f4a94"/>
<circle cx="325.06" cy="440.02" r="2.0" fill="#1f4a94"/>
<circle cx="327.44" cy="438.42" r="2.0" fill="#1f4a94"/>
<circle cx="329.10" cy="437.05" r="2.0" fill="#1f4a94"/>
<circle cx="327.62" cy="437.13" r="2.0" fill="#1f4a94"/>
<circle cx="328.50" cy="442.32" r="2.0" fill="#1f4a94"/>
<circle cx="329.16" cy="434.98" r="2.0" fill="#1f4a94"/>
<circle cx="328.39" cy="436.69" r="2.0" fill="#1f4a94"/>
<circle cx="324.77" cy="439.15" r="2.0" fill="#1f4a94"/>
<circle cx="328.43" cy="442.90" r="2.0" fill="#1f4a94"/>
<polygon points="344.23,448.87 342.08,452.74 346.38,452.74" fill="#6cb844"/>
<polygon points="340.78,446.39 338.63,450.26 342.93,450.26" fill="#6cb844"/>
<polygon points="342.75,449.49 340.60,453.36 344.90,453.36" fill="#6cb844"/>
<polygon points="339.42,446.54 337.27,450.41 341.57,450.41" fill="#6cb844"/>
<polygon points="343.83,447.56 341.68,451.43 345.98,451.43" fill="#6cb844"/>
<polygon points="343.24,447.55 341.09,451.42 345.39,451.42" fill="#6cb844"/>
<polygon points="344.28,446.82 342.13,450.69 346.43,450.69" fill="#6cb844"/>
<polygon points="342.34,446.46 340.19,450.33 344.49,450.33" fill="#6cb844"/>
<polygon points="339.19,448.72 337.04,452.59 341.34,452.59" fill="#6cb844"/>
<polygon points="338.49,446.94 336.34,450.81 340.64,450.81" fill="#6cb844"/>
<circle cx="356.57" cy="436.42" r="2.0" fill="#ec9a22"/>
<circle cx="359.18" cy="443.26" r="2.0" fill="#ec9a22"/>
<circle cx="358.49" cy="449.28" r="2.0" fill="#ec9a22"/>
<circle cx="354.55" cy="438.87" r="2.0" fill="#ec9a22"/>
<circle cx="354.74" cy="442.23" r="2.0" fill="#ec9a22"/>
<circle cx="356.95" cy="438.82" r="2.0" fill="#ec9a22"/>
<circle cx="354.04" cy="442.44" r="2.0" fill="#ec9a22"/>
<circle cx="359.02" cy="437.97" r="2.0" fill="#ec9a22"/>
<circle cx="356.93" cy="444.91" r="2.0" fill="#ec9a22"/>
<circle cx="358.99" cy="438.62" r="2.0" fill="#ec9a22"/>
<circle cx="356.41" cy="449.28" r="2.0" fill="#ec9a22"/>
<circle cx="356.60" cy="437.86" r="2.0" fill="#ec9a22"/>
<circle cx="356.02" cy="442.97" r="2.0" fill="#ec9a22"/>
<circle cx="354.37" cy="442.30" r="2.0" fill="#ec9a22"/>
<circle cx="369.20" cy="417.63" r="1.75" fill="none" stroke="#5a2a82" stroke-width="0.95"/>
<circle cx="373.20" cy="419.40" r="1.75" fill="none" stroke="#5a2a82" stroke-width="0.95"/>
<circle cx="369.20" cy="438.39" r="1.75" fill="none" stroke="#5a2a82" stroke-width="0.95"/>
<circle cx="373.20" cy="437.88" r="1.75" fill="none" stroke="#5a2a82" stroke-width="0.95"/>
<circle cx="371.20" cy="441.68" r="1.75" fill="none" stroke="#5a2a82" stroke-width="0.95"/>
<circle cx="369.20" cy="444.97" r="1.75" fill="none" stroke="#5a2a82" stroke-width="0.95"/>
<circle cx="371.20" cy="447.25" r="1.75" fill="none" stroke="#5a2a82" stroke-width="0.95"/>
<circle cx="371.20" cy="458.14" r="1.75" fill="none" stroke="#5a2a82" stroke-width="0.95"/>
<circle cx="372.70" cy="439.91" r="1.75" fill="none" stroke="#5a2a82" stroke-width="0.95"/>
<line x1="305.30" y1="447.25" x2="318.30" y2="447.25" stroke="#111" stroke-width="1.6"/>
<line x1="320.20" y1="439.15" x2="333.20" y2="439.15" stroke="#111" stroke-width="1.6"/>
<line x1="334.90" y1="450.29" x2="347.90" y2="450.29" stroke="#111" stroke-width="1.6"/>
<line x1="349.90" y1="442.19" x2="362.90" y2="442.19" stroke="#111" stroke-width="1.6"/>
<line x1="364.70" y1="439.66" x2="377.70" y2="439.66" stroke="#111" stroke-width="1.6"/>
<circle cx="326.70" cy="415.20" r="1.05" fill="#333"/>
<circle cx="326.70" cy="420.60" r="1.05" fill="#333"/>
<circle cx="326.70" cy="426.20" r="1.05" fill="#333"/>
<circle cx="341.40" cy="422.20" r="1.05" fill="#333"/>
<circle cx="341.40" cy="427.50" r="1.05" fill="#333"/>
<circle cx="356.40" cy="417.00" r="1.05" fill="#333"/>
<circle cx="356.40" cy="422.20" r="1.05" fill="#333"/>
<circle cx="356.40" cy="427.50" r="1.05" fill="#333"/>
<line x1="433.70" y1="405.00" x2="433.70" y2="471.40" stroke="#111" stroke-width="1.2"/>
<line x1="433.10" y1="470.80" x2="511.50" y2="470.80" stroke="#111" stroke-width="1.2"/>
<line x1="430.70" y1="470.80" x2="433.70" y2="470.80" stroke="#111" stroke-width="0.9"/>
<text x="427.30" y="473.30" font-size="7.5" text-anchor="end" textLength="3.80" lengthAdjust="spacingAndGlyphs" stroke="#111" stroke-width="0.26">0</text>
<line x1="430.70" y1="458.14" x2="433.70" y2="458.14" stroke="#111" stroke-width="0.9"/>
<text x="427.30" y="460.64" font-size="7.5" text-anchor="end" textLength="7.59" lengthAdjust="spacingAndGlyphs" stroke="#111" stroke-width="0.26">50</text>
<line x1="430.70" y1="445.48" x2="433.70" y2="445.48" stroke="#111" stroke-width="0.9"/>
<text x="427.30" y="447.98" font-size="7.5" text-anchor="end" textLength="11.39" lengthAdjust="spacingAndGlyphs" stroke="#111" stroke-width="0.26">100</text>
<line x1="430.70" y1="432.82" x2="433.70" y2="432.82" stroke="#111" stroke-width="0.9"/>
<text x="427.30" y="435.32" font-size="7.5" text-anchor="end" textLength="11.39" lengthAdjust="spacingAndGlyphs" stroke="#111" stroke-width="0.26">150</text>
<line x1="430.70" y1="420.16" x2="433.70" y2="420.16" stroke="#111" stroke-width="0.9"/>
<text x="427.30" y="422.66" font-size="7.5" text-anchor="end" textLength="11.39" lengthAdjust="spacingAndGlyphs" stroke="#111" stroke-width="0.26">200</text>
<line x1="430.70" y1="407.50" x2="433.70" y2="407.50" stroke="#111" stroke-width="0.9"/>
<text x="427.30" y="410.00" font-size="7.5" text-anchor="end" textLength="11.39" lengthAdjust="spacingAndGlyphs" stroke="#111" stroke-width="0.26">250</text>
<line x1="443.70" y1="470.80" x2="443.70" y2="473.60" stroke="#111" stroke-width="0.9"/>
<text x="448.70" y="481.30" font-size="8.0" text-anchor="end" textLength="11.32" lengthAdjust="spacingAndGlyphs" stroke="#111" stroke-width="0.26" transform="rotate(-45 448.70 481.3)">WT</text>
<line x1="458.40" y1="470.80" x2="458.40" y2="473.60" stroke="#111" stroke-width="0.9"/>
<text x="463.40" y="481.30" font-size="8.0" text-anchor="end" textLength="24.29" lengthAdjust="spacingAndGlyphs" stroke="#111" stroke-width="0.26" transform="rotate(-45 463.40 481.3)">&#916;E9-10</text>
<line x1="473.80" y1="470.80" x2="473.80" y2="473.60" stroke="#111" stroke-width="0.9"/>
<text x="478.80" y="481.30" font-size="8.0" text-anchor="end" textLength="19.43" lengthAdjust="spacingAndGlyphs" stroke="#111" stroke-width="0.26" transform="rotate(-45 478.80 481.3)">&#916;Tet2</text>
<line x1="487.70" y1="470.80" x2="487.70" y2="473.60" stroke="#111" stroke-width="0.9"/>
<text x="492.70" y="481.30" font-size="8.0" text-anchor="end" textLength="15.78" lengthAdjust="spacingAndGlyphs" stroke="#111" stroke-width="0.26" transform="rotate(-45 492.70 481.3)">DKO</text>
<line x1="502.90" y1="470.80" x2="502.90" y2="473.60" stroke="#111" stroke-width="0.9"/>
<text x="507.90" y="481.30" font-size="8.0" text-anchor="end" textLength="16.18" lengthAdjust="spacingAndGlyphs" stroke="#111" stroke-width="0.26" transform="rotate(-45 507.90 481.3)">MDS</text>
<text x="472.90" y="397.70" font-size="9.5" text-anchor="middle" textLength="10.09" lengthAdjust="spacingAndGlyphs" stroke="#111" stroke-width="0.26">Plt</text>
<text x="407.70" y="437.80" font-size="9.2" text-anchor="middle" textLength="23.60" lengthAdjust="spacingAndGlyphs" stroke="#111" stroke-width="0.26" transform="rotate(-90 407.70 437.8)">10<tspan font-size="5.5" dy="-3">4</tspan><tspan dy="3">/&#181;l</tspan></text>
<circle cx="441.70" cy="439.15" r="1.75" fill="none" stroke="#b3123e" stroke-width="0.95"/>
<circle cx="445.70" cy="440.42" r="1.75" fill="none" stroke="#b3123e" stroke-width="0.95"/>
<circle cx="443.70" cy="442.95" r="1.75" fill="none" stroke="#b3123e" stroke-width="0.95"/>
<circle cx="440.70" cy="444.21" r="1.75" fill="none" stroke="#b3123e" stroke-width="0.95"/>
<circle cx="446.70" cy="443.45" r="1.75" fill="none" stroke="#b3123e" stroke-width="0.95"/>
<circle cx="442.70" cy="445.48" r="1.75" fill="none" stroke="#b3123e" stroke-width="0.95"/>
<circle cx="444.70" cy="446.75" r="1.75" fill="none" stroke="#b3123e" stroke-width="0.95"/>
<circle cx="441.20" cy="448.01" r="1.75" fill="none" stroke="#b3123e" stroke-width="0.95"/>
<circle cx="446.20" cy="448.52" r="1.75" fill="none" stroke="#b3123e" stroke-width="0.95"/>
<circle cx="443.70" cy="449.28" r="1.75" fill="none" stroke="#b3123e" stroke-width="0.95"/>
<circle cx="442.70" cy="450.54" r="1.75" fill="none" stroke="#b3123e" stroke-width="0.95"/>
<circle cx="445.20" cy="451.81" r="1.75" fill="none" stroke="#b3123e" stroke-width="0.95"/>
<circle cx="443.70" cy="453.08" r="1.75" fill="none" stroke="#b3123e" stroke-width="0.95"/>
<circle cx="442.20" cy="447.51" r="1.75" fill="none" stroke="#b3123e" stroke-width="0.95"/>
<circle cx="443.70" cy="460.17" r="1.75" fill="none" stroke="#b3123e" stroke-width="0.95"/>
<circle cx="461.40" cy="416.36" r="2.0" fill="#1f4a94"/>
<circle cx="456.40" cy="420.16" r="2.0" fill="#1f4a94"/>
<circle cx="458.40" cy="420.92" r="2.0" fill="#1f4a94"/>
<circle cx="455.40" cy="422.69" r="2.0" fill="#1f4a94"/>
<circle cx="459.40" cy="424.46" r="2.0" fill="#1f4a94"/>
<circle cx="457.40" cy="426.49" r="2.0" fill="#1f4a94"/>
<circle cx="460.40" cy="428.26" r="2.0" fill="#1f4a94"/>
<circle cx="456.40" cy="430.29" r="2.0" fill="#1f4a94"/>
<circle cx="459.40" cy="431.55" r="2.0" fill="#1f4a94"/>
<circle cx="457.40" cy="432.82" r="2.0" fill="#1f4a94"/>
<circle cx="460.40" cy="435.35" r="2.0" fill="#1f4a94"/>
<circle cx="458.40" cy="437.88" r="2.0" fill="#1f4a94"/>
<circle cx="457.40" cy="440.42" r="2.0" fill="#1f4a94"/>
<circle cx="459.40" cy="442.95" r="2.0" fill="#1f4a94"/>
<circle cx="456.40" cy="446.75" r="2.0" fill="#1f4a94"/>
<circle cx="460.40" cy="446.75" r="2.0" fill="#1f4a94"/>
<polygon points="473.80,440.63 471.65,444.50 475.95,444.50" fill="#6cb844"/>
<polygon points="472.80,441.89 470.65,445.76 474.95,445.76" fill="#6cb844"/>
<polygon points="474.80,443.16 472.65,447.03 476.95,447.03" fill="#6cb844"/>
<polygon points="472.80,444.42 470.65,448.29 474.95,448.29" fill="#6cb844"/>
<polygon points="473.80,445.69 471.65,449.56 475.95,449.56" fill="#6cb844"/>
<polygon points="474.80,446.96 472.65,450.83 476.95,450.83" fill="#6cb844"/>
<circle cx="485.70" cy="422.69" r="2.0" fill="#ec9a22"/>
<circle cx="489.70" cy="422.69" r="2.0" fill="#ec9a22"/>
<circle cx="487.70" cy="425.22" r="2.0" fill="#ec9a22"/>
<circle cx="486.70" cy="427.76" r="2.0" fill="#ec9a22"/>
<circle cx="488.70" cy="429.02" r="2.0" fill="#ec9a22"/>
<circle cx="487.70" cy="430.29" r="2.0" fill="#ec9a22"/>
<circle cx="486.70" cy="434.09" r="2.0" fill="#ec9a22"/>
<circle cx="487.70" cy="436.62" r="2.0" fill="#ec9a22"/>
<circle cx="485.70" cy="440.42" r="2.0" fill="#ec9a22"/>
<circle cx="489.70" cy="440.92" r="2.0" fill="#ec9a22"/>
<circle cx="486.70" cy="444.21" r="2.0" fill="#ec9a22"/>
<circle cx="488.70" cy="445.48" r="2.0" fill="#ec9a22"/>
<circle cx="503.90" cy="434.09" r="1.75" fill="none" stroke="#5a2a82" stroke-width="0.95"/>
<circle cx="501.90" cy="436.62" r="1.75" fill="none" stroke="#5a2a82" stroke-width="0.95"/>
<circle cx="502.90" cy="439.15" r="1.75" fill="none" stroke="#5a2a82" stroke-width="0.95"/>
<circle cx="500.90" cy="441.68" r="1.75" fill="none" stroke="#5a2a82" stroke-width="0.95"/>
<circle cx="504.90" cy="442.95" r="1.75" fill="none" stroke="#5a2a82" stroke-width="0.95"/>
<circle cx="501.90" cy="445.48" r="1.75" fill="none" stroke="#5a2a82" stroke-width="0.95"/>
<circle cx="503.90" cy="448.01" r="1.75" fill="none" stroke="#5a2a82" stroke-width="0.95"/>
<circle cx="504.90" cy="451.81" r="1.75" fill="none" stroke="#5a2a82" stroke-width="0.95"/>
<circle cx="500.90" cy="461.94" r="1.75" fill="none" stroke="#5a2a82" stroke-width="0.95"/>
<circle cx="503.90" cy="463.20" r="1.75" fill="none" stroke="#5a2a82" stroke-width="0.95"/>
<line x1="437.20" y1="446.24" x2="450.20" y2="446.24" stroke="#111" stroke-width="1.6"/>
<line x1="451.90" y1="431.05" x2="464.90" y2="431.05" stroke="#111" stroke-width="1.6"/>
<line x1="467.30" y1="445.73" x2="480.30" y2="445.73" stroke="#111" stroke-width="1.6"/>
<line x1="481.20" y1="431.81" x2="494.20" y2="431.81" stroke="#111" stroke-width="1.6"/>
<line x1="496.40" y1="445.99" x2="509.40" y2="445.99" stroke="#111" stroke-width="1.6"/>
<circle cx="458.40" cy="401.90" r="1.05" fill="#333"/>
<circle cx="458.40" cy="407.10" r="1.05" fill="#333"/>
<circle cx="458.40" cy="412.30" r="1.05" fill="#333"/>
<circle cx="487.70" cy="404.50" r="1.05" fill="#333"/>
<circle cx="487.70" cy="409.70" r="1.05" fill="#333"/>
<circle cx="487.70" cy="415.20" r="1.05" fill="#333"/>
<text x="7.60" y="523.80" font-size="10.6" textLength="7.35" lengthAdjust="spacingAndGlyphs" stroke="#111" stroke-width="0.26">D</text>
<rect x="57.50" y="523.00" width="13.0" height="13.64" fill="#b0123c"/>
<rect x="57.50" y="536.64" width="13.0" height="36.17" fill="#2b4b8c"/>
<rect x="57.50" y="572.81" width="13.0" height="9.49" fill="#6ab04a"/>
<line x1="61.40" y1="571.21" x2="66.60" y2="571.21" stroke="#111" stroke-width="1.0"/>
<line x1="64.00" y1="571.21" x2="64.00" y2="573.31" stroke="#111" stroke-width="0.9"/>
<line x1="61.40" y1="535.04" x2="66.60" y2="535.04" stroke="#111" stroke-width="1.0"/>
<line x1="64.00" y1="535.04" x2="64.00" y2="537.14" stroke="#111" stroke-width="0.9"/>
<line x1="61.40" y1="521.40" x2="66.60" y2="521.40" stroke="#111" stroke-width="1.0"/>
<line x1="64.00" y1="521.40" x2="64.00" y2="523.50" stroke="#111" stroke-width="0.9"/>
<rect x="77.10" y="525.37" width="13.0" height="16.60" fill="#b0123c"/>
<rect x="77.10" y="541.98" width="13.0" height="28.46" fill="#2b4b8c"/>
<rect x="77.10" y="570.44" width="13.0" height="11.86" fill="#6ab04a"/>
<line x1="81.00" y1="568.84" x2="86.20" y2="568.84" stroke="#111" stroke-width="1.0"/>
<line x1="83.60" y1="568.84" x2="83.60" y2="570.94" stroke="#111" stroke-width="0.9"/>
<line x1="81.00" y1="540.38" x2="86.20" y2="540.38" stroke="#111" stroke-width="1.0"/>
<line x1="83.60" y1="540.38" x2="83.60" y2="542.48" stroke="#111" stroke-width="0.9"/>
<line x1="81.00" y1="523.77" x2="86.20" y2="523.77" stroke="#111" stroke-width="1.0"/>
<line x1="83.60" y1="523.77" x2="83.60" y2="525.87" stroke="#111" stroke-width="0.9"/>
<rect x="96.60" y="521.22" width="13.0" height="5.34" fill="#b0123c"/>
<rect x="96.60" y="526.56" width="13.0" height="44.77" fill="#2b4b8c"/>
<rect x="96.60" y="571.33" width="13.0" height="10.97" fill="#6ab04a"/>
<line x1="100.50" y1="569.73" x2="105.70" y2="569.73" stroke="#111" stroke-width="1.0"/>
<line x1="103.10" y1="569.73" x2="103.10" y2="571.83" stroke="#111" stroke-width="0.9"/>
<line x1="100.50" y1="524.96" x2="105.70" y2="524.96" stroke="#111" stroke-width="1.0"/>
<line x1="103.10" y1="524.96" x2="103.10" y2="527.06" stroke="#111" stroke-width="0.9"/>
<line x1="100.50" y1="519.62" x2="105.70" y2="519.62" stroke="#111" stroke-width="1.0"/>
<line x1="103.10" y1="519.62" x2="103.10" y2="521.72" stroke="#111" stroke-width="0.9"/>
<rect x="116.20" y="527.15" width="13.0" height="13.64" fill="#b0123c"/>
<rect x="116.20" y="540.79" width="13.0" height="16.01" fill="#2b4b8c"/>
<rect x="116.20" y="556.80" width="13.0" height="25.50" fill="#6ab04a"/>
<line x1="120.10" y1="555.20" x2="125.30" y2="555.20" stroke="#111" stroke-width="1.0"/>
<line x1="122.70" y1="555.20" x2="122.70" y2="557.30" stroke="#111" stroke-width="0.9"/>
<line x1="120.10" y1="539.19" x2="125.30" y2="539.19" stroke="#111" stroke-width="1.0"/>
<line x1="122.70" y1="539.19" x2="122.70" y2="541.29" stroke="#111" stroke-width="0.9"/>
<line x1="120.10" y1="525.55" x2="125.30" y2="525.55" stroke="#111" stroke-width="1.0"/>
<line x1="122.70" y1="525.55" x2="122.70" y2="527.65" stroke="#111" stroke-width="0.9"/>
<rect x="135.80" y="523.59" width="13.0" height="13.64" fill="#b0123c"/>
<rect x="135.80" y="537.23" width="13.0" height="5.93" fill="#2b4b8c"/>
<rect x="135.80" y="543.16" width="13.0" height="39.14" fill="#6ab04a"/>
<line x1="139.70" y1="541.56" x2="144.90" y2="541.56" stroke="#111" stroke-width="1.0"/>
<line x1="142.30" y1="541.56" x2="142.30" y2="543.66" stroke="#111" stroke-width="0.9"/>
<line x1="139.70" y1="535.63" x2="144.90" y2="535.63" stroke="#111" stroke-width="1.0"/>
<line x1="142.30" y1="535.63" x2="142.30" y2="537.73" stroke="#111" stroke-width="0.9"/>
<line x1="139.70" y1="521.99" x2="144.90" y2="521.99" stroke="#111" stroke-width="1.0"/>
<line x1="142.30" y1="521.99" x2="142.30" y2="524.09" stroke="#111" stroke-width="0.9"/>
<line x1="54.00" y1="520.70" x2="54.00" y2="582.90" stroke="#111" stroke-width="1.3"/>
<line x1="53.40" y1="582.30" x2="151.70" y2="582.30" stroke="#111" stroke-width="1.3"/>
<line x1="51.00" y1="582.30" x2="54.00" y2="582.30" stroke="#111" stroke-width="0.9"/>
<text x="48.00" y="584.90" font-size="7.6" text-anchor="end" textLength="3.85" lengthAdjust="spacingAndGlyphs" stroke="#111" stroke-width="0.26">0</text>
<line x1="51.00" y1="552.65" x2="54.00" y2="552.65" stroke="#111" stroke-width="0.9"/>
<text x="48.00" y="555.25" font-size="7.6" text-anchor="end" textLength="7.69" lengthAdjust="spacingAndGlyphs" stroke="#111" stroke-width="0.26">50</text>
<line x1="51.00" y1="523.00" x2="54.00" y2="523.00" stroke="#111" stroke-width="0.9"/>
<text x="48.00" y="525.60" font-size="7.6" text-anchor="end" textLength="11.54" lengthAdjust="spacingAndGlyphs" stroke="#111" stroke-width="0.26">100</text>
<line x1="64.00" y1="582.30" x2="64.00" y2="585.10" stroke="#111" stroke-width="0.9"/>
<text x="69.10" y="591.70" font-size="8.0" text-anchor="end" textLength="11.32" lengthAdjust="spacingAndGlyphs" stroke="#111" stroke-width="0.26" transform="rotate(-45 69.10 591.7)">WT</text>
<line x1="83.60" y1="582.30" x2="83.60" y2="585.10" stroke="#111" stroke-width="0.9"/>
<text x="88.70" y="591.70" font-size="8.0" text-anchor="end" textLength="24.29" lengthAdjust="spacingAndGlyphs" stroke="#111" stroke-width="0.26" transform="rotate(-45 88.70 591.7)">&#916;E9-10</text>
<line x1="103.10" y1="582.30" x2="103.10" y2="585.10" stroke="#111" stroke-width="0.9"/>
<text x="108.20" y="591.70" font-size="8.0" text-anchor="end" textLength="19.43" lengthAdjust="spacingAndGlyphs" stroke="#111" stroke-width="0.26" transform="rotate(-45 108.20 591.7)">&#916;Tet2</text>
<line x1="122.70" y1="582.30" x2="122.70" y2="585.10" stroke="#111" stroke-width="0.9"/>
<text x="127.80" y="591.70" font-size="8.0" text-anchor="end" textLength="15.78" lengthAdjust="spacingAndGlyphs" stroke="#111" stroke-width="0.26" transform="rotate(-45 127.80 591.7)">DKO</text>
<line x1="142.30" y1="582.30" x2="142.30" y2="585.10" stroke="#111" stroke-width="0.9"/>
<text x="147.40" y="591.70" font-size="8.0" text-anchor="end" textLength="16.18" lengthAdjust="spacingAndGlyphs" stroke="#111" stroke-width="0.26" transform="rotate(-45 147.40 591.7)">MDS</text>
<text x="29.00" y="551.60" font-size="9.0" text-anchor="middle" textLength="67.50" lengthAdjust="spacingAndGlyphs" stroke="#111" stroke-width="0.26" transform="rotate(-90 29.00 551.6)">% in CD45.2 cells</text>
<rect x="213.30" y="523.97" width="13.0" height="13.42" fill="#b0123c"/>
<rect x="213.30" y="537.39" width="13.0" height="35.69" fill="#2b4b8c"/>
<rect x="213.30" y="573.08" width="13.0" height="9.42" fill="#6ab04a"/>
<line x1="217.20" y1="571.48" x2="222.40" y2="571.48" stroke="#111" stroke-width="1.0"/>
<line x1="219.80" y1="571.48" x2="219.80" y2="573.58" stroke="#111" stroke-width="0.9"/>
<line x1="217.20" y1="535.79" x2="222.40" y2="535.79" stroke="#111" stroke-width="1.0"/>
<line x1="219.80" y1="535.79" x2="219.80" y2="537.89" stroke="#111" stroke-width="0.9"/>
<line x1="217.20" y1="522.37" x2="222.40" y2="522.37" stroke="#111" stroke-width="1.0"/>
<line x1="219.80" y1="522.37" x2="219.80" y2="524.47" stroke="#111" stroke-width="0.9"/>
<rect x="233.00" y="555.95" width="13.0" height="7.71" fill="#b0123c"/>
<rect x="233.00" y="563.66" width="13.0" height="13.13" fill="#2b4b8c"/>
<rect x="233.00" y="576.79" width="13.0" height="5.71" fill="#6ab04a"/>
<line x1="236.90" y1="575.19" x2="242.10" y2="575.19" stroke="#111" stroke-width="1.0"/>
<line x1="239.50" y1="575.19" x2="239.50" y2="577.29" stroke="#111" stroke-width="0.9"/>
<line x1="236.90" y1="562.06" x2="242.10" y2="562.06" stroke="#111" stroke-width="1.0"/>
<line x1="239.50" y1="562.06" x2="239.50" y2="564.16" stroke="#111" stroke-width="0.9"/>
<line x1="236.90" y1="554.35" x2="242.10" y2="554.35" stroke="#111" stroke-width="1.0"/>
<line x1="239.50" y1="554.35" x2="239.50" y2="556.45" stroke="#111" stroke-width="0.9"/>
<rect x="252.60" y="537.39" width="13.0" height="4.00" fill="#b0123c"/>
<rect x="252.60" y="541.39" width="13.0" height="32.83" fill="#2b4b8c"/>
<rect x="252.60" y="574.22" width="13.0" height="8.28" fill="#6ab04a"/>
<line x1="256.50" y1="572.62" x2="261.70" y2="572.62" stroke="#111" stroke-width="1.0"/>
<line x1="259.10" y1="572.62" x2="259.10" y2="574.72" stroke="#111" stroke-width="0.9"/>
<line x1="256.50" y1="539.79" x2="261.70" y2="539.79" stroke="#111" stroke-width="1.0"/>
<line x1="259.10" y1="539.79" x2="259.10" y2="541.89" stroke="#111" stroke-width="0.9"/>
<line x1="256.50" y1="535.79" x2="261.70" y2="535.79" stroke="#111" stroke-width="1.0"/>
<line x1="259.10" y1="535.79" x2="259.10" y2="537.89" stroke="#111" stroke-width="0.9"/>
<rect x="272.20" y="565.08" width="13.0" height="4.28" fill="#b0123c"/>
<rect x="272.20" y="569.37" width="13.0" height="5.42" fill="#2b4b8c"/>
<rect x="272.20" y="574.79" width="13.0" height="7.71" fill="#6ab04a"/>
<line x1="276.10" y1="573.19" x2="281.30" y2="573.19" stroke="#111" stroke-width="1.0"/>
<line x1="278.70" y1="573.19" x2="278.70" y2="575.29" stroke="#111" stroke-width="0.9"/>
<line x1="276.10" y1="567.77" x2="281.30" y2="567.77" stroke="#111" stroke-width="1.0"/>
<line x1="278.70" y1="567.77" x2="278.70" y2="569.87" stroke="#111" stroke-width="0.9"/>
<line x1="276.10" y1="563.48" x2="281.30" y2="563.48" stroke="#111" stroke-width="1.0"/>
<line x1="278.70" y1="563.48" x2="278.70" y2="565.58" stroke="#111" stroke-width="0.9"/>
<rect x="291.80" y="565.08" width="13.0" height="4.28" fill="#b0123c"/>
<rect x="291.80" y="569.37" width="13.0" height="1.14" fill="#2b4b8c"/>
<rect x="291.80" y="570.51" width="13.0" height="11.99" fill="#6ab04a"/>
<line x1="295.70" y1="568.91" x2="300.90" y2="568.91" stroke="#111" stroke-width="1.0"/>
<line x1="298.30" y1="568.91" x2="298.30" y2="571.01" stroke="#111" stroke-width="0.9"/>
<line x1="295.70" y1="567.77" x2="300.90" y2="567.77" stroke="#111" stroke-width="1.0"/>
<line x1="298.30" y1="567.77" x2="298.30" y2="569.87" stroke="#111" stroke-width="0.9"/>
<line x1="295.70" y1="563.48" x2="300.90" y2="563.48" stroke="#111" stroke-width="1.0"/>
<line x1="298.30" y1="563.48" x2="298.30" y2="565.58" stroke="#111" stroke-width="0.9"/>
<line x1="210.40" y1="521.50" x2="210.40" y2="583.10" stroke="#111" stroke-width="1.3"/>
<line x1="209.80" y1="582.50" x2="307.70" y2="582.50" stroke="#111" stroke-width="1.3"/>
<line x1="207.40" y1="582.50" x2="210.40" y2="582.50" stroke="#111" stroke-width="0.9"/>
<text x="204.40" y="585.10" font-size="7.6" text-anchor="end" textLength="3.85" lengthAdjust="spacingAndGlyphs" stroke="#111" stroke-width="0.26">0</text>
<line x1="207.40" y1="568.23" x2="210.40" y2="568.23" stroke="#111" stroke-width="0.9"/>
<text x="204.40" y="570.83" font-size="7.6" text-anchor="end" textLength="7.69" lengthAdjust="spacingAndGlyphs" stroke="#111" stroke-width="0.26">50</text>
<line x1="207.40" y1="553.95" x2="210.40" y2="553.95" stroke="#111" stroke-width="0.9"/>
<text x="204.40" y="556.55" font-size="7.6" text-anchor="end" textLength="11.54" lengthAdjust="spacingAndGlyphs" stroke="#111" stroke-width="0.26">100</text>
<line x1="207.40" y1="539.67" x2="210.40" y2="539.67" stroke="#111" stroke-width="0.9"/>
<text x="204.40" y="542.27" font-size="7.6" text-anchor="end" textLength="11.54" lengthAdjust="spacingAndGlyphs" stroke="#111" stroke-width="0.26">150</text>
<line x1="207.40" y1="525.40" x2="210.40" y2="525.40" stroke="#111" stroke-width="0.9"/>
<text x="204.40" y="528.00" font-size="7.6" text-anchor="end" textLength="11.54" lengthAdjust="spacingAndGlyphs" stroke="#111" stroke-width="0.26">200</text>
<line x1="219.80" y1="582.50" x2="219.80" y2="585.30" stroke="#111" stroke-width="0.9"/>
<text x="224.90" y="591.70" font-size="8.0" text-anchor="end" textLength="11.32" lengthAdjust="spacingAndGlyphs" stroke="#111" stroke-width="0.26" transform="rotate(-45 224.90 591.7)">WT</text>
<line x1="239.50" y1="582.50" x2="239.50" y2="585.30" stroke="#111" stroke-width="0.9"/>
<text x="244.60" y="591.70" font-size="8.0" text-anchor="end" textLength="24.29" lengthAdjust="spacingAndGlyphs" stroke="#111" stroke-width="0.26" transform="rotate(-45 244.60 591.7)">&#916;E9-10</text>
<line x1="259.10" y1="582.50" x2="259.10" y2="585.30" stroke="#111" stroke-width="0.9"/>
<text x="264.20" y="591.70" font-size="8.0" text-anchor="end" textLength="19.43" lengthAdjust="spacingAndGlyphs" stroke="#111" stroke-width="0.26" transform="rotate(-45 264.20 591.7)">&#916;Tet2</text>
<line x1="278.70" y1="582.50" x2="278.70" y2="585.30" stroke="#111" stroke-width="0.9"/>
<text x="283.80" y="591.70" font-size="8.0" text-anchor="end" textLength="15.78" lengthAdjust="spacingAndGlyphs" stroke="#111" stroke-width="0.26" transform="rotate(-45 283.80 591.7)">DKO</text>
<line x1="298.30" y1="582.50" x2="298.30" y2="585.30" stroke="#111" stroke-width="0.9"/>
<text x="303.40" y="591.70" font-size="8.0" text-anchor="end" textLength="16.18" lengthAdjust="spacingAndGlyphs" stroke="#111" stroke-width="0.26" transform="rotate(-45 303.40 591.7)">MDS</text>
<text x="184.20" y="551.60" font-size="9.0" text-anchor="middle" textLength="68.30" lengthAdjust="spacingAndGlyphs" stroke="#111" stroke-width="0.26" transform="rotate(-90 184.20 551.6)">Numbers (10<tspan font-size="6" dy="-3">2</tspan><tspan dy="3">/&#181;l)</tspan></text>
<text x="64.00" y="535.40" font-size="7.8" text-anchor="middle" textLength="4.34" lengthAdjust="spacingAndGlyphs" fill="#f4f4f4">T</text>
<text x="64.00" y="556.20" font-size="7.8" text-anchor="middle" textLength="4.73" lengthAdjust="spacingAndGlyphs" fill="#e8e8f0">B</text>
<text x="64.00" y="580.30" font-size="8.0" text-anchor="middle" textLength="9.40" lengthAdjust="spacingAndGlyphs" stroke="#111" stroke-width="0.26">My</text>
<text x="219.80" y="534.20" font-size="7.8" text-anchor="middle" textLength="4.34" lengthAdjust="spacingAndGlyphs" fill="#f4f4f4">T</text>
<text x="219.80" y="557.20" font-size="7.8" text-anchor="middle" textLength="4.73" lengthAdjust="spacingAndGlyphs" fill="#e8e8f0">B</text>
<text x="219.80" y="580.00" font-size="8.0" text-anchor="middle" textLength="9.40" lengthAdjust="spacingAndGlyphs" stroke="#111" stroke-width="0.26">My</text>
<circle cx="100.20" cy="549.40" r="1.05" fill="#fff"/>
<circle cx="103.10" cy="549.40" r="1.05" fill="#fff"/>
<circle cx="106.00" cy="549.40" r="1.05" fill="#fff"/>
<circle cx="100.20" cy="575.40" r="1.05" fill="#111"/>
<circle cx="103.10" cy="575.40" r="1.05" fill="#111"/>
<circle cx="106.00" cy="575.40" r="1.05" fill="#111"/>
<circle cx="119.80" cy="549.40" r="1.05" fill="#fff"/>
<circle cx="122.70" cy="549.40" r="1.05" fill="#fff"/>
<circle cx="125.60" cy="549.40" r="1.05" fill="#fff"/>
<circle cx="119.80" cy="569.60" r="1.05" fill="#111"/>
<circle cx="122.70" cy="569.60" r="1.05" fill="#111"/>
<circle cx="125.60" cy="569.60" r="1.05" fill="#111"/>
<circle cx="139.40" cy="569.60" r="1.05" fill="#111"/>
<circle cx="142.30" cy="569.60" r="1.05" fill="#111"/>
<circle cx="145.20" cy="569.60" r="1.05" fill="#111"/>
<circle cx="152.10" cy="540.60" r="1.05" fill="#111"/>
<circle cx="155.00" cy="540.60" r="1.05" fill="#111"/>
<circle cx="157.90" cy="540.60" r="1.05" fill="#111"/>
<circle cx="256.30" cy="520.80" r="1.05" fill="#111"/>
<circle cx="259.20" cy="520.80" r="1.05" fill="#111"/>
<circle cx="262.10" cy="520.80" r="1.05" fill="#111"/>
<circle cx="275.70" cy="547.40" r="1.05" fill="#111"/>
<circle cx="278.60" cy="547.40" r="1.05" fill="#111"/>
<circle cx="281.50" cy="547.40" r="1.05" fill="#111"/>
<circle cx="295.30" cy="547.40" r="1.05" fill="#111"/>
<circle cx="298.20" cy="547.40" r="1.05" fill="#111"/>
<circle cx="301.10" cy="547.40" r="1.05" fill="#111"/>
<text x="259.10" y="532.70" font-size="7.6" text-anchor="middle" textLength="8.80" lengthAdjust="spacingAndGlyphs" stroke="#111" stroke-width="0.26">(T)</text>
<text x="278.60" y="560.30" font-size="7.6" text-anchor="middle" textLength="14.00" lengthAdjust="spacingAndGlyphs" stroke="#111" stroke-width="0.26">(T,B)</text>
<text x="298.20" y="560.30" font-size="7.6" text-anchor="middle" textLength="14.00" lengthAdjust="spacingAndGlyphs" stroke="#111" stroke-width="0.26">(T,B)</text>
<text x="7.40" y="635.30" font-size="10.6" textLength="6.79" lengthAdjust="spacingAndGlyphs" stroke="#111" stroke-width="0.26">E</text>
<defs><clipPath id="cp0"><rect x="49.0" y="633.0" width="65.80" height="63.7"/></clipPath><clipPath id="cp1"><rect x="118.2" y="633.0" width="65.70" height="63.7"/></clipPath><clipPath id="cp2"><rect x="187.8" y="633.0" width="66.00" height="63.7"/></clipPath><clipPath id="cp3"><rect x="257.8" y="633.0" width="65.10" height="63.7"/></clipPath><clipPath id="cp4"><rect x="328.0" y="633.0" width="65.60" height="63.7"/></clipPath><radialGradient id="rbc" cx="0.5" cy="0.5" r="0.5"><stop offset="0" stop-color="#e4ddec"/><stop offset="0.55" stop-color="#d9d1e3"/><stop offset="0.86" stop-color="#beb7c8"/><stop offset="1" stop-color="#8c8798"/></radialGradient><radialGradient id="pale" cx="0.5" cy="0.5" r="0.5"><stop offset="0" stop-color="#e6e1e9"/><stop offset="1" stop-color="#dad6dd"/></radialGradient></defs>
<text x="50.70" y="630.90" font-size="7.4" textLength="6.90" lengthAdjust="spacingAndGlyphs" font-weight="bold" stroke="#111" stroke-width="0.26">#1</text>
<g clip-path="url(#cp0)">
<rect x="49.0" y="633.0" width="65.80" height="63.7" fill="#f8f2f9"/>
<circle cx="60.50" cy="646.60" r="6.90" fill="url(#pale)"/>
<circle cx="100.00" cy="673.00" r="7.60" fill="url(#pale)"/>
<circle cx="54.30" cy="639.00" r="5.30" fill="url(#rbc)" stroke="#85818c" stroke-width="0.7"/>
<path d="M55.23,644.39 A5.50,5.50 0 0 0 59.69,639.93" fill="none" stroke="#c9a98f" stroke-width="0.6"/>
<circle cx="74.40" cy="633.50" r="5.70" fill="url(#rbc)" stroke="#85818c" stroke-width="0.7"/>
<path d="M75.40,639.28 A5.90,5.90 0 0 0 80.18,634.50" fill="none" stroke="#c9a98f" stroke-width="0.6"/>
<circle cx="73.70" cy="643.80" r="4.30" fill="url(#rbc)" stroke="#85818c" stroke-width="0.7"/>
<path d="M74.47,648.21 A4.50,4.50 0 0 0 78.11,644.56" fill="none" stroke="#c9a98f" stroke-width="0.6"/>
<circle cx="82.70" cy="645.20" r="6.40" fill="url(#rbc)" stroke="#85818c" stroke-width="0.7"/>
<path d="M83.82,651.67 A6.60,6.60 0 0 0 89.17,646.32" fill="none" stroke="#c9a98f" stroke-width="0.6"/>
<circle cx="109.70" cy="644.50" r="5.70" fill="url(#rbc)" stroke="#85818c" stroke-width="0.7"/>
<path d="M110.70,650.28 A5.90,5.90 0 0 0 115.48,645.50" fill="none" stroke="#c9a98f" stroke-width="0.6"/>
<circle cx="96.50" cy="652.20" r="6.40" fill="url(#rbc)" stroke="#85818c" stroke-width="0.7"/>
<path d="M97.62,658.67 A6.60,6.60 0 0 0 102.97,653.32" fill="none" stroke="#c9a98f" stroke-width="0.6"/>
<circle cx="109.00" cy="659.00" r="5.70" fill="url(#rbc)" stroke="#85818c" stroke-width="0.7"/>
<path d="M110.00,664.78 A5.90,5.90 0 0 0 114.78,660.00" fill="none" stroke="#c9a98f" stroke-width="0.6"/>
<circle cx="59.80" cy="661.20" r="5.70" fill="url(#rbc)" stroke="#85818c" stroke-width="0.7"/>
<path d="M60.80,666.98 A5.90,5.90 0 0 0 65.58,662.20" fill="none" stroke="#c9a98f" stroke-width="0.6"/>
<circle cx="61.20" cy="675.70" r="6.40" fill="url(#rbc)" stroke="#85818c" stroke-width="0.7"/>
<path d="M62.32,682.17 A6.60,6.60 0 0 0 67.67,676.82" fill="none" stroke="#c9a98f" stroke-width="0.6"/>
<circle cx="100.70" cy="681.20" r="5.70" fill="url(#rbc)" stroke="#85818c" stroke-width="0.7"/>
<path d="M101.70,686.98 A5.90,5.90 0 0 0 106.48,682.20" fill="none" stroke="#c9a98f" stroke-width="0.6"/>
<circle cx="68.20" cy="688.20" r="7.10" fill="url(#rbc)" stroke="#85818c" stroke-width="0.7"/>
<path d="M69.44,695.35 A7.30,7.30 0 0 0 75.35,689.44" fill="none" stroke="#c9a98f" stroke-width="0.6"/>
<circle cx="84.10" cy="684.70" r="7.10" fill="url(#rbc)" stroke="#85818c" stroke-width="0.7"/>
<path d="M85.34,691.85 A7.30,7.30 0 0 0 91.25,685.94" fill="none" stroke="#c9a98f" stroke-width="0.6"/>
<circle cx="50.20" cy="671.50" r="4.50" fill="url(#rbc)" stroke="#85818c" stroke-width="0.7"/>
<path d="M51.00,676.11 A4.70,4.70 0 0 0 54.81,672.30" fill="none" stroke="#c9a98f" stroke-width="0.6"/>
<circle cx="113.80" cy="675.70" r="4.50" fill="url(#rbc)" stroke="#85818c" stroke-width="0.7"/>
<path d="M114.60,680.31 A4.70,4.70 0 0 0 118.41,676.50" fill="none" stroke="#c9a98f" stroke-width="0.6"/>
<circle cx="102.80" cy="691.50" r="5.70" fill="url(#rbc)" stroke="#85818c" stroke-width="0.7"/>
<path d="M103.80,697.28 A5.90,5.90 0 0 0 108.58,692.50" fill="none" stroke="#c9a98f" stroke-width="0.6"/>
<circle cx="86.20" cy="697.00" r="4.50" fill="url(#rbc)" stroke="#85818c" stroke-width="0.7"/>
<path d="M87.00,701.61 A4.70,4.70 0 0 0 90.81,697.80" fill="none" stroke="#c9a98f" stroke-width="0.6"/>
<circle cx="80.0" cy="666.0" r="12.7" fill="#8c74c6"/>
<circle cx="85.25" cy="658.21" r="1.30" fill="#6a4cac" opacity="0.8"/>
<circle cx="87.35" cy="664.38" r="1.90" fill="#6a4cac" opacity="0.8"/>
<circle cx="86.33" cy="664.70" r="1.87" fill="#4e2e90" opacity="0.8"/>
<circle cx="74.27" cy="665.83" r="1.71" fill="#6a4cac" opacity="0.8"/>
<circle cx="87.85" cy="665.37" r="1.65" fill="#4e2e90" opacity="0.8"/>
<circle cx="76.60" cy="674.57" r="1.88" fill="#6a4cac" opacity="0.8"/>
<circle cx="76.63" cy="666.60" r="1.32" fill="#4e2e90" opacity="0.8"/>
<circle cx="87.29" cy="664.45" r="1.84" fill="#6a4cac" opacity="0.8"/>
<circle cx="89.56" cy="669.95" r="1.90" fill="#5a3a9e" opacity="0.8"/>
<circle cx="78.71" cy="659.31" r="1.79" fill="#5a3a9e" opacity="0.8"/>
<circle cx="72.51" cy="659.65" r="1.20" fill="#6a4cac" opacity="0.8"/>
<circle cx="79.22" cy="663.41" r="1.90" fill="#4e2e90" opacity="0.8"/>
<circle cx="80.76" cy="676.59" r="1.76" fill="#b9a6dc" opacity="0.8"/>
<circle cx="89.04" cy="671.83" r="1.85" fill="#b9a6dc" opacity="0.8"/>
<circle cx="86.21" cy="671.07" r="1.65" fill="#6a4cac" opacity="0.8"/>
<circle cx="83.13" cy="658.71" r="1.96" fill="#6a4cac" opacity="0.8"/>
<circle cx="72.16" cy="668.82" r="1.26" fill="#4e2e90" opacity="0.8"/>
<circle cx="78.82" cy="670.55" r="1.02" fill="#6a4cac" opacity="0.8"/>
<circle cx="76.80" cy="666.48" r="1.71" fill="#4e2e90" opacity="0.8"/>
<circle cx="88.78" cy="661.41" r="1.88" fill="#b9a6dc" opacity="0.8"/>
<circle cx="84.10" cy="659.34" r="1.43" fill="#4e2e90" opacity="0.8"/>
<circle cx="85.97" cy="657.72" r="1.51" fill="#b9a6dc" opacity="0.8"/>
<circle cx="73.64" cy="662.52" r="1.59" fill="#6a4cac" opacity="0.8"/>
<circle cx="87.34" cy="670.18" r="1.38" fill="#6a4cac" opacity="0.8"/>
<circle cx="82.99" cy="661.60" r="1.68" fill="#5a3a9e" opacity="0.8"/>
<circle cx="78.18" cy="659.67" r="1.00" fill="#b9a6dc" opacity="0.8"/>
<circle cx="81.38" cy="662.87" r="0.98" fill="#4e2e90" opacity="0.8"/>
<circle cx="87.85" cy="668.29" r="1.89" fill="#5a3a9e" opacity="0.8"/>
<circle cx="88.48" cy="667.44" r="1.53" fill="#5a3a9e" opacity="0.8"/>
<circle cx="74.91" cy="670.15" r="1.98" fill="#5a3a9e" opacity="0.8"/>
<circle cx="76.25" cy="663.07" r="1.96" fill="#5a3a9e" opacity="0.8"/>
<circle cx="70.87" cy="667.20" r="0.87" fill="#5a3a9e" opacity="0.8"/>
<circle cx="71.82" cy="663.67" r="1.80" fill="#5a3a9e" opacity="0.8"/>
<circle cx="81.58" cy="674.54" r="1.22" fill="#4e2e90" opacity="0.8"/>
<circle cx="86.84" cy="668.76" r="1.52" fill="#b9a6dc" opacity="0.8"/>
<circle cx="82.02" cy="672.14" r="1.68" fill="#4e2e90" opacity="0.8"/>
<circle cx="78.43" cy="661.39" r="1.72" fill="#4e2e90" opacity="0.8"/>
<circle cx="83.56" cy="660.79" r="1.10" fill="#b9a6dc" opacity="0.8"/>
<circle cx="79.37" cy="664.93" r="1.62" fill="#6a4cac" opacity="0.8"/>
<circle cx="76.01" cy="660.58" r="1.59" fill="#4e2e90" opacity="0.8"/>
<circle cx="78.88" cy="665.55" r="1.69" fill="#6a4cac" opacity="0.8"/>
<circle cx="79.45" cy="658.05" r="0.96" fill="#b9a6dc" opacity="0.8"/>
<circle cx="76.53" cy="670.64" r="1.23" fill="#4e2e90" opacity="0.8"/>
<circle cx="78.56" cy="659.43" r="1.30" fill="#5a3a9e" opacity="0.8"/>
<circle cx="84.73" cy="666.05" r="1.20" fill="#4e2e90" opacity="0.8"/>
<circle cx="81.22" cy="673.12" r="1.65" fill="#b9a6dc" opacity="0.8"/>
<circle cx="89.88" cy="667.98" r="1.48" fill="#5a3a9e" opacity="0.8"/>
<circle cx="81.38" cy="668.35" r="1.64" fill="#b9a6dc" opacity="0.8"/>
<circle cx="72.58" cy="664.70" r="1.47" fill="#5a3a9e" opacity="0.8"/>
<circle cx="85.66" cy="660.94" r="1.17" fill="#b9a6dc" opacity="0.8"/>
<circle cx="89.32" cy="669.02" r="1.97" fill="#b9a6dc" opacity="0.8"/>
<circle cx="84.10" cy="675.98" r="1.56" fill="#5a3a9e" opacity="0.8"/>
<circle cx="82.04" cy="662.67" r="0.82" fill="#b9a6dc" opacity="0.8"/>
</g>
<text x="119.90" y="630.90" font-size="7.4" textLength="6.90" lengthAdjust="spacingAndGlyphs" font-weight="bold" stroke="#111" stroke-width="0.26">#1</text>
<g clip-path="url(#cp1)">
<rect x="118.2" y="633.0" width="65.70" height="63.7" fill="#f8f2f9"/>
<circle cx="151.3" cy="667.4" r="13.600000000000001" fill="#e6d9ef"/>
<circle cx="153.40" cy="639.70" r="7.80" fill="url(#rbc)" stroke="#85818c" stroke-width="0.7"/>
<path d="M154.76,647.54 A8.00,8.00 0 0 0 161.24,641.06" fill="none" stroke="#c9a98f" stroke-width="0.6"/>
<circle cx="179.70" cy="635.50" r="5.50" fill="url(#rbc)" stroke="#85818c" stroke-width="0.7"/>
<path d="M180.67,641.09 A5.70,5.70 0 0 0 185.29,636.47" fill="none" stroke="#c9a98f" stroke-width="0.6"/>
<circle cx="126.40" cy="653.50" r="7.10" fill="url(#rbc)" stroke="#85818c" stroke-width="0.7"/>
<path d="M127.64,660.65 A7.30,7.30 0 0 0 133.55,654.74" fill="none" stroke="#c9a98f" stroke-width="0.6"/>
<circle cx="140.20" cy="653.50" r="5.00" fill="url(#rbc)" stroke="#85818c" stroke-width="0.7"/>
<path d="M141.08,658.60 A5.20,5.20 0 0 0 145.30,654.38" fill="none" stroke="#c9a98f" stroke-width="0.6"/>
<circle cx="134.00" cy="662.50" r="4.30" fill="url(#rbc)" stroke="#85818c" stroke-width="0.7"/>
<path d="M134.76,666.91 A4.50,4.50 0 0 0 138.41,663.26" fill="none" stroke="#c9a98f" stroke-width="0.6"/>
<circle cx="172.80" cy="663.20" r="7.10" fill="url(#rbc)" stroke="#85818c" stroke-width="0.7"/>
<path d="M174.04,670.35 A7.30,7.30 0 0 0 179.95,664.44" fill="none" stroke="#c9a98f" stroke-width="0.6"/>
<circle cx="182.00" cy="653.50" r="4.50" fill="url(#rbc)" stroke="#85818c" stroke-width="0.7"/>
<path d="M182.80,658.11 A4.70,4.70 0 0 0 186.61,654.30" fill="none" stroke="#c9a98f" stroke-width="0.6"/>
<circle cx="171.40" cy="684.00" r="7.80" fill="url(#rbc)" stroke="#85818c" stroke-width="0.7"/>
<path d="M172.76,691.84 A8.00,8.00 0 0 0 179.24,685.36" fill="none" stroke="#c9a98f" stroke-width="0.6"/>
<circle cx="139.50" cy="692.30" r="7.10" fill="url(#rbc)" stroke="#85818c" stroke-width="0.7"/>
<path d="M140.74,699.45 A7.30,7.30 0 0 0 146.65,693.54" fill="none" stroke="#c9a98f" stroke-width="0.6"/>
<circle cx="121.50" cy="688.00" r="5.50" fill="url(#rbc)" stroke="#85818c" stroke-width="0.7"/>
<path d="M122.47,693.59 A5.70,5.70 0 0 0 127.09,688.97" fill="none" stroke="#c9a98f" stroke-width="0.6"/>
<circle cx="151.3" cy="667.4" r="11.8" fill="#a08ad2"/>
<circle cx="157.43" cy="674.30" r="1.72" fill="#6a4cac" opacity="0.8"/>
<circle cx="157.76" cy="673.31" r="1.37" fill="#b9a6dc" opacity="0.8"/>
<circle cx="152.04" cy="664.42" r="0.83" fill="#b9a6dc" opacity="0.8"/>
<circle cx="143.31" cy="670.99" r="0.80" fill="#b9a6dc" opacity="0.8"/>
<circle cx="150.38" cy="676.33" r="1.51" fill="#5a3a9e" opacity="0.8"/>
<circle cx="152.73" cy="666.38" r="0.83" fill="#5a3a9e" opacity="0.8"/>
<circle cx="157.05" cy="665.09" r="1.06" fill="#b9a6dc" opacity="0.8"/>
<circle cx="150.20" cy="660.20" r="1.72" fill="#b9a6dc" opacity="0.8"/>
<circle cx="145.72" cy="665.48" r="1.61" fill="#b9a6dc" opacity="0.8"/>
<circle cx="160.52" cy="664.54" r="1.30" fill="#5a3a9e" opacity="0.8"/>
<circle cx="155.22" cy="676.59" r="1.83" fill="#5a3a9e" opacity="0.8"/>
<circle cx="150.89" cy="657.92" r="1.97" fill="#b9a6dc" opacity="0.8"/>
<circle cx="141.74" cy="666.94" r="1.03" fill="#6a4cac" opacity="0.8"/>
<circle cx="143.27" cy="662.47" r="1.82" fill="#b9a6dc" opacity="0.8"/>
<circle cx="149.72" cy="666.41" r="1.09" fill="#b9a6dc" opacity="0.8"/>
<circle cx="147.72" cy="669.54" r="1.46" fill="#6a4cac" opacity="0.8"/>
<circle cx="158.30" cy="671.62" r="0.93" fill="#4e2e90" opacity="0.8"/>
<circle cx="145.06" cy="666.58" r="1.39" fill="#5a3a9e" opacity="0.8"/>
<circle cx="145.83" cy="668.47" r="1.82" fill="#b9a6dc" opacity="0.8"/>
<circle cx="148.82" cy="664.11" r="1.07" fill="#5a3a9e" opacity="0.8"/>
<circle cx="152.25" cy="660.09" r="1.83" fill="#4e2e90" opacity="0.8"/>
<circle cx="146.45" cy="670.72" r="1.82" fill="#6a4cac" opacity="0.8"/>
<circle cx="146.27" cy="668.72" r="1.46" fill="#5a3a9e" opacity="0.8"/>
<circle cx="144.39" cy="673.60" r="1.95" fill="#4e2e90" opacity="0.8"/>
<circle cx="143.84" cy="666.52" r="1.31" fill="#5a3a9e" opacity="0.8"/>
<circle cx="145.29" cy="668.12" r="1.47" fill="#b9a6dc" opacity="0.8"/>
<circle cx="145.34" cy="667.97" r="1.22" fill="#6a4cac" opacity="0.8"/>
<circle cx="149.68" cy="667.84" r="1.08" fill="#4e2e90" opacity="0.8"/>
<circle cx="147.25" cy="666.06" r="0.91" fill="#6a4cac" opacity="0.8"/>
<circle cx="160.84" cy="669.37" r="0.88" fill="#5a3a9e" opacity="0.8"/>
<circle cx="142.97" cy="669.94" r="1.14" fill="#6a4cac" opacity="0.8"/>
<circle cx="157.43" cy="672.43" r="1.21" fill="#5a3a9e" opacity="0.8"/>
<circle cx="153.81" cy="671.80" r="1.94" fill="#6a4cac" opacity="0.8"/>
<circle cx="148.05" cy="663.03" r="1.64" fill="#b9a6dc" opacity="0.8"/>
<circle cx="149.78" cy="667.65" r="1.26" fill="#b9a6dc" opacity="0.8"/>
<circle cx="152.76" cy="662.51" r="1.10" fill="#4e2e90" opacity="0.8"/>
<circle cx="157.74" cy="665.98" r="1.97" fill="#4e2e90" opacity="0.8"/>
<circle cx="155.11" cy="667.83" r="1.66" fill="#4e2e90" opacity="0.8"/>
<circle cx="144.58" cy="669.79" r="1.31" fill="#4e2e90" opacity="0.8"/>
<circle cx="159.18" cy="666.25" r="1.63" fill="#b9a6dc" opacity="0.8"/>
<circle cx="152.65" cy="675.36" r="1.27" fill="#6a4cac" opacity="0.8"/>
<circle cx="147.78" cy="661.88" r="1.68" fill="#4e2e90" opacity="0.8"/>
<circle cx="160.49" cy="665.52" r="1.17" fill="#5a3a9e" opacity="0.8"/>
<circle cx="147.70" cy="676.43" r="1.69" fill="#b9a6dc" opacity="0.8"/>
<circle cx="147.98" cy="665.96" r="1.47" fill="#5a3a9e" opacity="0.8"/>
<circle cx="147.36" cy="664.88" r="1.88" fill="#b9a6dc" opacity="0.8"/>
<circle cx="155.72" cy="675.63" r="1.97" fill="#5a3a9e" opacity="0.8"/>
<circle cx="147.05" cy="671.50" r="1.05" fill="#b9a6dc" opacity="0.8"/>
<circle cx="145.39" cy="663.58" r="1.93" fill="#b9a6dc" opacity="0.8"/>
<circle cx="120.80" cy="649.40" r="2.07" fill="#7a60b6"/>
<circle cx="121.50" cy="662.50" r="2.07" fill="#7a60b6"/>
<circle cx="127.00" cy="663.20" r="1.80" fill="#7a60b6"/>
<circle cx="129.20" cy="668.00" r="2.16" fill="#7a60b6"/>
<circle cx="172.80" cy="650.80" r="1.80" fill="#7a60b6"/>
<circle cx="169.30" cy="674.30" r="2.16" fill="#7a60b6"/>
<circle cx="179.00" cy="675.00" r="1.80" fill="#7a60b6"/>
<circle cx="165.20" cy="668.80" r="1.62" fill="#7a60b6"/>
<circle cx="179.00" cy="643.20" r="2.52" fill="#7a60b6"/>
<circle cx="125.70" cy="634.80" r="2.07" fill="#7a60b6"/>
<circle cx="156.20" cy="695.00" r="1.80" fill="#7a60b6"/>
<circle cx="136.80" cy="657.70" r="2.52" fill="#7a60b6"/>
<circle cx="139.50" cy="660.50" r="2.25" fill="#7a60b6"/>
</g>
<text x="189.50" y="630.90" font-size="7.4" textLength="6.90" lengthAdjust="spacingAndGlyphs" font-weight="bold" stroke="#111" stroke-width="0.26">#2</text>
<g clip-path="url(#cp2)">
<rect x="187.8" y="633.0" width="66.00" height="63.7" fill="#f8f2f9"/>
<circle cx="224.10" cy="647.30" r="6.90" fill="url(#pale)"/>
<circle cx="194.30" cy="639.00" r="6.40" fill="url(#rbc)" stroke="#85818c" stroke-width="0.7"/>
<path d="M195.42,645.47 A6.60,6.60 0 0 0 200.77,640.12" fill="none" stroke="#c9a98f" stroke-width="0.6"/>
<circle cx="208.80" cy="640.40" r="6.40" fill="url(#rbc)" stroke="#85818c" stroke-width="0.7"/>
<path d="M209.92,646.87 A6.60,6.60 0 0 0 215.27,641.52" fill="none" stroke="#c9a98f" stroke-width="0.6"/>
<circle cx="223.40" cy="635.50" r="6.40" fill="url(#rbc)" stroke="#85818c" stroke-width="0.7"/>
<path d="M224.52,641.97 A6.60,6.60 0 0 0 229.87,636.62" fill="none" stroke="#c9a98f" stroke-width="0.6"/>
<circle cx="208.20" cy="654.20" r="6.40" fill="url(#rbc)" stroke="#85818c" stroke-width="0.7"/>
<path d="M209.32,660.67 A6.60,6.60 0 0 0 214.67,655.32" fill="none" stroke="#c9a98f" stroke-width="0.6"/>
<circle cx="193.00" cy="659.00" r="5.70" fill="url(#rbc)" stroke="#85818c" stroke-width="0.7"/>
<path d="M194.00,664.78 A5.90,5.90 0 0 0 198.78,660.00" fill="none" stroke="#c9a98f" stroke-width="0.6"/>
<circle cx="205.40" cy="669.50" r="5.70" fill="url(#rbc)" stroke="#85818c" stroke-width="0.7"/>
<path d="M206.40,675.28 A5.90,5.90 0 0 0 211.18,670.50" fill="none" stroke="#c9a98f" stroke-width="0.6"/>
<circle cx="192.20" cy="669.50" r="5.70" fill="url(#rbc)" stroke="#85818c" stroke-width="0.7"/>
<path d="M193.20,675.28 A5.90,5.90 0 0 0 197.98,670.50" fill="none" stroke="#c9a98f" stroke-width="0.6"/>
<circle cx="241.40" cy="676.40" r="7.80" fill="url(#rbc)" stroke="#85818c" stroke-width="0.7"/>
<path d="M242.76,684.24 A8.00,8.00 0 0 0 249.24,677.76" fill="none" stroke="#c9a98f" stroke-width="0.6"/>
<circle cx="230.30" cy="688.20" r="7.80" fill="url(#rbc)" stroke="#85818c" stroke-width="0.7"/>
<path d="M231.66,696.04 A8.00,8.00 0 0 0 238.14,689.56" fill="none" stroke="#c9a98f" stroke-width="0.6"/>
<circle cx="219.20" cy="692.30" r="5.00" fill="url(#rbc)" stroke="#85818c" stroke-width="0.7"/>
<path d="M220.08,697.40 A5.20,5.20 0 0 0 224.30,693.18" fill="none" stroke="#c9a98f" stroke-width="0.6"/>
<circle cx="190.20" cy="681.20" r="4.50" fill="url(#rbc)" stroke="#85818c" stroke-width="0.7"/>
<path d="M191.00,685.81 A4.70,4.70 0 0 0 194.81,682.00" fill="none" stroke="#c9a98f" stroke-width="0.6"/>
<circle cx="253.50" cy="680.00" r="3.50" fill="url(#rbc)" stroke="#85818c" stroke-width="0.7"/>
<path d="M254.13,683.63 A3.70,3.70 0 0 0 257.13,680.63" fill="none" stroke="#c9a98f" stroke-width="0.6"/>
<circle cx="222.0" cy="665.3" r="11.8" fill="#6e50b0"/>
<circle cx="231.39" cy="662.64" r="0.87" fill="#5a3a9e" opacity="0.8"/>
<circle cx="219.35" cy="668.46" r="1.77" fill="#6a4cac" opacity="0.8"/>
<circle cx="221.95" cy="669.92" r="0.84" fill="#4e2e90" opacity="0.8"/>
<circle cx="230.01" cy="665.28" r="1.76" fill="#6a4cac" opacity="0.8"/>
<circle cx="215.57" cy="663.47" r="1.12" fill="#5a3a9e" opacity="0.8"/>
<circle cx="226.17" cy="660.91" r="1.92" fill="#b9a6dc" opacity="0.8"/>
<circle cx="213.64" cy="669.66" r="1.00" fill="#4e2e90" opacity="0.8"/>
<circle cx="222.13" cy="666.84" r="1.19" fill="#4e2e90" opacity="0.8"/>
<circle cx="216.00" cy="664.92" r="1.42" fill="#4e2e90" opacity="0.8"/>
<circle cx="228.69" cy="665.10" r="1.30" fill="#6a4cac" opacity="0.8"/>
<circle cx="223.47" cy="659.52" r="1.98" fill="#b9a6dc" opacity="0.8"/>
<circle cx="226.61" cy="672.69" r="1.66" fill="#b9a6dc" opacity="0.8"/>
<circle cx="219.18" cy="661.15" r="1.13" fill="#b9a6dc" opacity="0.8"/>
<circle cx="212.85" cy="665.25" r="1.22" fill="#b9a6dc" opacity="0.8"/>
<circle cx="227.50" cy="661.29" r="1.48" fill="#b9a6dc" opacity="0.8"/>
<circle cx="217.29" cy="665.70" r="1.19" fill="#4e2e90" opacity="0.8"/>
<circle cx="227.63" cy="659.79" r="1.73" fill="#b9a6dc" opacity="0.8"/>
<circle cx="218.41" cy="674.43" r="1.65" fill="#b9a6dc" opacity="0.8"/>
<circle cx="220.27" cy="669.53" r="1.41" fill="#5a3a9e" opacity="0.8"/>
<circle cx="223.25" cy="659.57" r="0.81" fill="#4e2e90" opacity="0.8"/>
<circle cx="225.27" cy="665.24" r="1.49" fill="#5a3a9e" opacity="0.8"/>
<circle cx="221.31" cy="670.02" r="1.85" fill="#5a3a9e" opacity="0.8"/>
<circle cx="222.10" cy="661.60" r="1.12" fill="#4e2e90" opacity="0.8"/>
<circle cx="224.31" cy="664.44" r="1.88" fill="#5a3a9e" opacity="0.8"/>
<circle cx="227.64" cy="667.40" r="1.10" fill="#5a3a9e" opacity="0.8"/>
<circle cx="230.50" cy="670.18" r="0.83" fill="#5a3a9e" opacity="0.8"/>
<circle cx="219.50" cy="667.87" r="1.92" fill="#4e2e90" opacity="0.8"/>
<circle cx="221.56" cy="665.24" r="1.51" fill="#4e2e90" opacity="0.8"/>
<circle cx="223.11" cy="666.86" r="1.21" fill="#5a3a9e" opacity="0.8"/>
<circle cx="220.43" cy="672.13" r="1.17" fill="#5a3a9e" opacity="0.8"/>
<circle cx="229.12" cy="660.26" r="1.83" fill="#4e2e90" opacity="0.8"/>
<circle cx="217.31" cy="666.11" r="1.59" fill="#6a4cac" opacity="0.8"/>
<circle cx="222.82" cy="663.97" r="1.75" fill="#4e2e90" opacity="0.8"/>
<circle cx="213.19" cy="664.28" r="1.38" fill="#6a4cac" opacity="0.8"/>
<circle cx="228.08" cy="673.02" r="1.11" fill="#b9a6dc" opacity="0.8"/>
<circle cx="217.21" cy="658.41" r="1.95" fill="#5a3a9e" opacity="0.8"/>
<circle cx="221.93" cy="668.94" r="1.00" fill="#b9a6dc" opacity="0.8"/>
<circle cx="217.27" cy="659.93" r="1.98" fill="#5a3a9e" opacity="0.8"/>
<circle cx="226.83" cy="665.13" r="1.33" fill="#6a4cac" opacity="0.8"/>
<circle cx="226.19" cy="667.62" r="1.75" fill="#6a4cac" opacity="0.8"/>
<circle cx="221.73" cy="671.82" r="1.43" fill="#5a3a9e" opacity="0.8"/>
<circle cx="225.62" cy="670.36" r="0.99" fill="#5a3a9e" opacity="0.8"/>
<circle cx="222.18" cy="668.46" r="1.02" fill="#4e2e90" opacity="0.8"/>
<circle cx="223.24" cy="666.26" r="1.60" fill="#b9a6dc" opacity="0.8"/>
<circle cx="219.06" cy="672.78" r="1.05" fill="#4e2e90" opacity="0.8"/>
<circle cx="221.13" cy="658.75" r="1.41" fill="#5a3a9e" opacity="0.8"/>
<circle cx="229.11" cy="658.75" r="1.50" fill="#5a3a9e" opacity="0.8"/>
<circle cx="218.40" cy="659.36" r="0.82" fill="#5a3a9e" opacity="0.8"/>
<circle cx="217.85" cy="661.85" r="1.98" fill="#6a4cac" opacity="0.8"/>
<circle cx="206.00" cy="667.00" r="1.62" fill="#7a60b6"/>
</g>
<text x="259.50" y="630.90" font-size="7.4" textLength="6.90" lengthAdjust="spacingAndGlyphs" font-weight="bold" stroke="#111" stroke-width="0.26">#3</text>
<g clip-path="url(#cp3)">
<rect x="257.8" y="633.0" width="65.10" height="63.7" fill="#f8f2f9"/>
<circle cx="281.30" cy="636.20" r="7.60" fill="url(#pale)"/>
<circle cx="320.00" cy="636.20" r="5.00" fill="url(#pale)"/>
<circle cx="260.50" cy="685.40" r="6.00" fill="url(#pale)"/>
<circle cx="263.30" cy="639.00" r="5.70" fill="url(#rbc)" stroke="#85818c" stroke-width="0.7"/>
<path d="M264.30,644.78 A5.90,5.90 0 0 0 269.08,640.00" fill="none" stroke="#c9a98f" stroke-width="0.6"/>
<circle cx="305.50" cy="641.00" r="7.10" fill="url(#rbc)" stroke="#85818c" stroke-width="0.7"/>
<path d="M306.74,648.15 A7.30,7.30 0 0 0 312.65,642.24" fill="none" stroke="#c9a98f" stroke-width="0.6"/>
<circle cx="307.00" cy="635.50" r="5.50" fill="url(#rbc)" stroke="#85818c" stroke-width="0.7"/>
<path d="M307.97,641.09 A5.70,5.70 0 0 0 312.59,636.47" fill="none" stroke="#c9a98f" stroke-width="0.6"/>
<circle cx="281.30" cy="653.50" r="6.10" fill="url(#rbc)" stroke="#85818c" stroke-width="0.7"/>
<path d="M282.37,659.67 A6.30,6.30 0 0 0 287.47,654.57" fill="none" stroke="#c9a98f" stroke-width="0.6"/>
<circle cx="260.50" cy="659.00" r="5.70" fill="url(#rbc)" stroke="#85818c" stroke-width="0.7"/>
<path d="M261.50,664.78 A5.90,5.90 0 0 0 266.28,660.00" fill="none" stroke="#c9a98f" stroke-width="0.6"/>
<circle cx="315.20" cy="660.50" r="7.10" fill="url(#rbc)" stroke="#85818c" stroke-width="0.7"/>
<path d="M316.44,667.65 A7.30,7.30 0 0 0 322.35,661.74" fill="none" stroke="#c9a98f" stroke-width="0.6"/>
<circle cx="275.80" cy="668.00" r="7.10" fill="url(#rbc)" stroke="#85818c" stroke-width="0.7"/>
<path d="M277.04,675.15 A7.30,7.30 0 0 0 282.95,669.24" fill="none" stroke="#c9a98f" stroke-width="0.6"/>
<circle cx="271.60" cy="677.80" r="6.40" fill="url(#rbc)" stroke="#85818c" stroke-width="0.7"/>
<path d="M272.72,684.27 A6.60,6.60 0 0 0 278.07,678.92" fill="none" stroke="#c9a98f" stroke-width="0.6"/>
<circle cx="301.40" cy="675.00" r="6.10" fill="url(#rbc)" stroke="#85818c" stroke-width="0.7"/>
<path d="M302.47,681.17 A6.30,6.30 0 0 0 307.57,676.07" fill="none" stroke="#c9a98f" stroke-width="0.6"/>
<circle cx="320.50" cy="675.70" r="5.50" fill="url(#rbc)" stroke="#85818c" stroke-width="0.7"/>
<path d="M321.47,681.29 A5.70,5.70 0 0 0 326.09,676.67" fill="none" stroke="#c9a98f" stroke-width="0.6"/>
<circle cx="296.50" cy="688.20" r="5.70" fill="url(#rbc)" stroke="#85818c" stroke-width="0.7"/>
<path d="M297.50,693.98 A5.90,5.90 0 0 0 302.28,689.20" fill="none" stroke="#c9a98f" stroke-width="0.6"/>
<circle cx="284.80" cy="657.70" r="1.26" fill="#7a60b6"/>
<circle cx="300.70" cy="679.20" r="1.26" fill="#7a60b6"/>
</g>
<text x="329.70" y="630.90" font-size="7.4" textLength="6.90" lengthAdjust="spacingAndGlyphs" font-weight="bold" stroke="#111" stroke-width="0.26">#4</text>
<g clip-path="url(#cp4)">
<rect x="328.0" y="633.0" width="65.60" height="63.7" fill="#f8f2f9"/>
<circle cx="348.50" cy="641.80" r="7.10" fill="url(#rbc)" stroke="#85818c" stroke-width="0.7"/>
<path d="M349.74,648.95 A7.30,7.30 0 0 0 355.65,643.04" fill="none" stroke="#c9a98f" stroke-width="0.6"/>
<circle cx="360.30" cy="634.20" r="6.40" fill="url(#rbc)" stroke="#85818c" stroke-width="0.7"/>
<path d="M361.42,640.67 A6.60,6.60 0 0 0 366.77,635.32" fill="none" stroke="#c9a98f" stroke-width="0.6"/>
<circle cx="373.50" cy="641.00" r="7.80" fill="url(#rbc)" stroke="#85818c" stroke-width="0.7"/>
<path d="M374.86,648.84 A8.00,8.00 0 0 0 381.34,642.36" fill="none" stroke="#c9a98f" stroke-width="0.6"/>
<circle cx="390.00" cy="643.20" r="5.70" fill="url(#rbc)" stroke="#85818c" stroke-width="0.7"/>
<path d="M391.00,648.98 A5.90,5.90 0 0 0 395.78,644.20" fill="none" stroke="#c9a98f" stroke-width="0.6"/>
<circle cx="373.50" cy="655.60" r="6.40" fill="url(#rbc)" stroke="#85818c" stroke-width="0.7"/>
<path d="M374.62,662.07 A6.60,6.60 0 0 0 379.97,656.72" fill="none" stroke="#c9a98f" stroke-width="0.6"/>
<circle cx="388.00" cy="661.20" r="6.40" fill="url(#rbc)" stroke="#85818c" stroke-width="0.7"/>
<path d="M389.12,667.67 A6.60,6.60 0 0 0 394.47,662.32" fill="none" stroke="#c9a98f" stroke-width="0.6"/>
<circle cx="334.70" cy="666.70" r="7.10" fill="url(#rbc)" stroke="#85818c" stroke-width="0.7"/>
<path d="M335.94,673.85 A7.30,7.30 0 0 0 341.85,667.94" fill="none" stroke="#c9a98f" stroke-width="0.6"/>
<circle cx="329.80" cy="654.20" r="4.50" fill="url(#rbc)" stroke="#85818c" stroke-width="0.7"/>
<path d="M330.60,658.81 A4.70,4.70 0 0 0 334.41,655.00" fill="none" stroke="#c9a98f" stroke-width="0.6"/>
<circle cx="376.20" cy="670.20" r="7.10" fill="url(#rbc)" stroke="#85818c" stroke-width="0.7"/>
<path d="M377.44,677.35 A7.30,7.30 0 0 0 383.35,671.44" fill="none" stroke="#c9a98f" stroke-width="0.6"/>
<circle cx="348.50" cy="676.40" r="6.10" fill="url(#rbc)" stroke="#85818c" stroke-width="0.7"/>
<path d="M349.57,682.57 A6.30,6.30 0 0 0 354.67,677.47" fill="none" stroke="#c9a98f" stroke-width="0.6"/>
<circle cx="362.40" cy="677.80" r="6.40" fill="url(#rbc)" stroke="#85818c" stroke-width="0.7"/>
<path d="M363.52,684.27 A6.60,6.60 0 0 0 368.87,678.92" fill="none" stroke="#c9a98f" stroke-width="0.6"/>
<circle cx="330.50" cy="679.20" r="4.50" fill="url(#rbc)" stroke="#85818c" stroke-width="0.7"/>
<path d="M331.30,683.81 A4.70,4.70 0 0 0 335.11,680.00" fill="none" stroke="#c9a98f" stroke-width="0.6"/>
<circle cx="376.20" cy="688.20" r="7.10" fill="url(#rbc)" stroke="#85818c" stroke-width="0.7"/>
<path d="M377.44,695.35 A7.30,7.30 0 0 0 383.35,689.44" fill="none" stroke="#c9a98f" stroke-width="0.6"/>
<circle cx="390.00" cy="688.20" r="4.50" fill="url(#rbc)" stroke="#85818c" stroke-width="0.7"/>
<path d="M390.80,692.81 A4.70,4.70 0 0 0 394.61,689.00" fill="none" stroke="#c9a98f" stroke-width="0.6"/>
<circle cx="358.9" cy="664.0" r="7.6" fill="#7458b4"/>
<circle cx="359.08" cy="666.07" r="1.28" fill="#4e2e90" opacity="0.8"/>
<circle cx="359.67" cy="664.49" r="1.46" fill="#6a4cac" opacity="0.8"/>
<circle cx="360.66" cy="658.63" r="1.07" fill="#6a4cac" opacity="0.8"/>
<circle cx="358.45" cy="666.65" r="0.93" fill="#4e2e90" opacity="0.8"/>
<circle cx="359.87" cy="663.64" r="1.57" fill="#6a4cac" opacity="0.8"/>
<circle cx="359.79" cy="661.30" r="1.17" fill="#6a4cac" opacity="0.8"/>
<circle cx="363.20" cy="666.61" r="1.61" fill="#4e2e90" opacity="0.8"/>
<circle cx="360.85" cy="668.00" r="0.91" fill="#6a4cac" opacity="0.8"/>
<circle cx="362.39" cy="664.16" r="1.65" fill="#6a4cac" opacity="0.8"/>
<circle cx="361.56" cy="660.24" r="1.30" fill="#6a4cac" opacity="0.8"/>
<circle cx="356.55" cy="665.09" r="1.17" fill="#5a3a9e" opacity="0.8"/>
<circle cx="362.74" cy="666.14" r="2.00" fill="#b9a6dc" opacity="0.8"/>
<circle cx="358.15" cy="661.66" r="1.61" fill="#5a3a9e" opacity="0.8"/>
<circle cx="356.42" cy="665.52" r="1.56" fill="#6a4cac" opacity="0.8"/>
<circle cx="360.63" cy="667.90" r="1.51" fill="#4e2e90" opacity="0.8"/>
<circle cx="360.59" cy="662.84" r="0.87" fill="#4e2e90" opacity="0.8"/>
<circle cx="358.05" cy="668.86" r="1.83" fill="#5a3a9e" opacity="0.8"/>
<circle cx="357.57" cy="666.38" r="1.35" fill="#5a3a9e" opacity="0.8"/>
<circle cx="357.74" cy="665.45" r="1.96" fill="#6a4cac" opacity="0.8"/>
<circle cx="358.30" cy="657.70" r="0.82" fill="#6a4cac" opacity="0.8"/>
<circle cx="357.80" cy="666.27" r="1.58" fill="#5a3a9e" opacity="0.8"/>
<circle cx="358.14" cy="666.72" r="1.33" fill="#4e2e90" opacity="0.8"/>
<circle cx="358.90" cy="669.00" r="0.99" fill="#5a3a9e" opacity="0.8"/>
<circle cx="356.05" cy="667.30" r="1.24" fill="#6a4cac" opacity="0.8"/>
<circle cx="363.78" cy="663.91" r="1.33" fill="#4e2e90" opacity="0.8"/>
<circle cx="356.28" cy="665.35" r="0.87" fill="#5a3a9e" opacity="0.8"/>
<circle cx="358.50" cy="659.03" r="1.96" fill="#5a3a9e" opacity="0.8"/>
<circle cx="354.18" cy="662.59" r="1.19" fill="#5a3a9e" opacity="0.8"/>
<circle cx="362.28" cy="667.27" r="1.73" fill="#b9a6dc" opacity="0.8"/>
<circle cx="357.22" cy="661.64" r="1.04" fill="#b9a6dc" opacity="0.8"/>
<circle cx="357.85" cy="664.66" r="1.31" fill="#4e2e90" opacity="0.8"/>
<circle cx="354.10" cy="651.50" r="2.16" fill="#7a60b6"/>
<circle cx="338.80" cy="639.00" r="2.07" fill="#7a60b6"/>
<circle cx="333.30" cy="639.70" r="2.07" fill="#7a60b6"/>
<circle cx="369.00" cy="664.60" r="1.80" fill="#7a60b6"/>
<circle cx="340.20" cy="674.30" r="1.80" fill="#7a60b6"/>
<circle cx="345.80" cy="689.50" r="2.70" fill="#7a60b6"/>
<circle cx="341.60" cy="691.00" r="2.25" fill="#7a60b6"/>
<circle cx="338.80" cy="695.00" r="2.25" fill="#7a60b6"/>
<circle cx="344.40" cy="686.00" r="1.80" fill="#7a60b6"/>
</g>
<line x1="90.00" y1="693.90" x2="109.20" y2="693.90" stroke="#111" stroke-width="1.6"/>
<line x1="160.00" y1="693.90" x2="179.50" y2="693.90" stroke="#111" stroke-width="1.6"/>
<line x1="230.00" y1="693.90" x2="249.50" y2="693.90" stroke="#111" stroke-width="1.6"/>
<line x1="299.80" y1="693.90" x2="319.50" y2="693.90" stroke="#111" stroke-width="1.6"/>
<line x1="371.50" y1="693.90" x2="391.20" y2="693.90" stroke="#111" stroke-width="1.6"/>
<rect x="0" y="0" width="520" height="1.3" fill="#111"/>
<rect x="0" y="0" width="1.2" height="704" fill="#111"/>
<rect x="518.8" y="0" width="1.2" height="704" fill="#111"/>
<rect x="0" y="702.8" width="520" height="1.2" fill="#111"/>
</svg>
</body></html>
